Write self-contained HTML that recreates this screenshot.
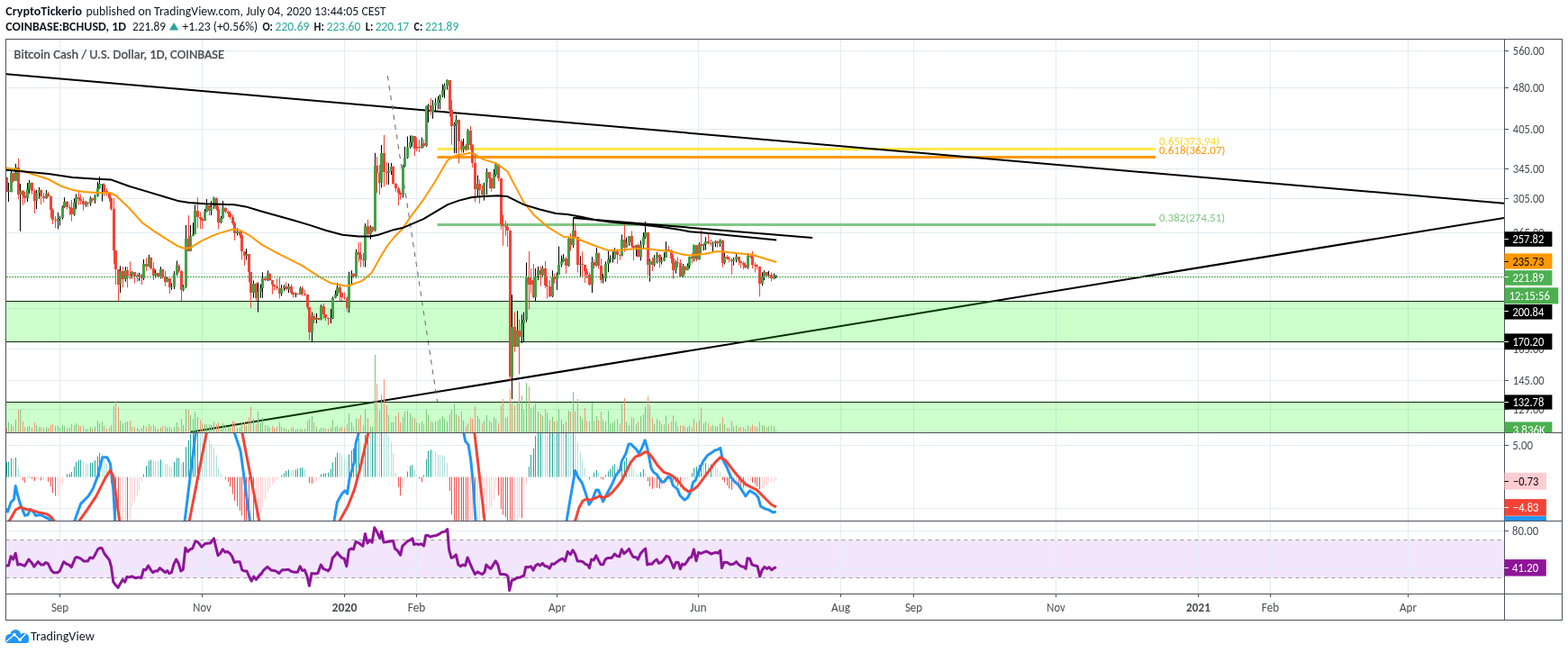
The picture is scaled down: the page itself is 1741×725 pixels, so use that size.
<!DOCTYPE html>
<html><head><meta charset="utf-8"><title>BCHUSD chart</title>
<style>html,body{margin:0;padding:0;background:#fff;}svg{display:block;}</style>
</head><body>
<svg width="1741" height="725" viewBox="0 0 1741 725" shape-rendering="auto">
<defs><clipPath id="cm"><rect x="7.0" y="44.0" width="1663.0" height="436.0"/></clipPath><clipPath id="cd"><rect x="7.0" y="481.0" width="1663.0" height="97.0"/></clipPath><clipPath id="cr"><rect x="7.0" y="579.0" width="1663.0" height="80.0"/></clipPath></defs>
<rect width="1741" height="725" fill="#fff"/>
<rect x="6.5" y="599.5" width="1664.0" height="42" fill="#f3e6fc"/>
<line x1="66.5" y1="43.5" x2="66.5" y2="659.5" stroke="#e1ecf2" stroke-width="1"/>
<line x1="224.5" y1="43.5" x2="224.5" y2="659.5" stroke="#e1ecf2" stroke-width="1"/>
<line x1="382.5" y1="43.5" x2="382.5" y2="659.5" stroke="#e1ecf2" stroke-width="1"/>
<line x1="462.5" y1="43.5" x2="462.5" y2="659.5" stroke="#e1ecf2" stroke-width="1"/>
<line x1="618.5" y1="43.5" x2="618.5" y2="659.5" stroke="#e1ecf2" stroke-width="1"/>
<line x1="775.5" y1="43.5" x2="775.5" y2="659.5" stroke="#e1ecf2" stroke-width="1"/>
<line x1="933.5" y1="43.5" x2="933.5" y2="659.5" stroke="#e1ecf2" stroke-width="1"/>
<line x1="1014.5" y1="43.5" x2="1014.5" y2="659.5" stroke="#e1ecf2" stroke-width="1"/>
<line x1="1172.5" y1="43.5" x2="1172.5" y2="659.5" stroke="#e1ecf2" stroke-width="1"/>
<line x1="1330.5" y1="43.5" x2="1330.5" y2="659.5" stroke="#e1ecf2" stroke-width="1"/>
<line x1="1410.5" y1="43.5" x2="1410.5" y2="659.5" stroke="#e1ecf2" stroke-width="1"/>
<line x1="1563.5" y1="43.5" x2="1563.5" y2="659.5" stroke="#e1ecf2" stroke-width="1"/>
<line x1="6.5" y1="56.5" x2="1670.5" y2="56.5" stroke="#e1ecf2" stroke-width="1"/>
<line x1="6.5" y1="97.5" x2="1670.5" y2="97.5" stroke="#e1ecf2" stroke-width="1"/>
<line x1="6.5" y1="143.5" x2="1670.5" y2="143.5" stroke="#e1ecf2" stroke-width="1"/>
<line x1="6.5" y1="187.5" x2="1670.5" y2="187.5" stroke="#e1ecf2" stroke-width="1"/>
<line x1="6.5" y1="220.5" x2="1670.5" y2="220.5" stroke="#e1ecf2" stroke-width="1"/>
<line x1="6.5" y1="258.5" x2="1670.5" y2="258.5" stroke="#e1ecf2" stroke-width="1"/>
<line x1="6.5" y1="303.5" x2="1670.5" y2="303.5" stroke="#e1ecf2" stroke-width="1"/>
<line x1="6.5" y1="342.5" x2="1670.5" y2="342.5" stroke="#e1ecf2" stroke-width="1"/>
<line x1="6.5" y1="387.5" x2="1670.5" y2="387.5" stroke="#e1ecf2" stroke-width="1"/>
<line x1="6.5" y1="422.5" x2="1670.5" y2="422.5" stroke="#e1ecf2" stroke-width="1"/>
<line x1="6.5" y1="454.5" x2="1670.5" y2="454.5" stroke="#e1ecf2" stroke-width="1"/>
<line x1="6.5" y1="494.5" x2="1670.5" y2="494.5" stroke="#e1ecf2" stroke-width="1"/>
<line x1="6.5" y1="564.5" x2="1670.5" y2="564.5" stroke="#e1ecf2" stroke-width="1"/>
<line x1="6.5" y1="589.5" x2="1670.5" y2="589.5" stroke="#e1ecf2" stroke-width="1"/>
<line x1="6.5" y1="631.5" x2="1670.5" y2="631.5" stroke="#e1ecf2" stroke-width="1"/>
<g clip-path="url(#cm)">
<line x1="485.4" y1="165.5" x2="1283" y2="165.5" stroke="#fce94f" stroke-width="3"/>
<line x1="485.4" y1="174.5" x2="1283" y2="174.5" stroke="#ff9800" stroke-width="3"/>
<line x1="485.4" y1="249.5" x2="1283" y2="249.5" stroke="#81c784" stroke-width="3"/>
<line x1="0" y1="81.7" x2="1670" y2="225.7" stroke="#000" stroke-width="2"/>
<line x1="211" y1="479.8" x2="1670" y2="241.9" stroke="#000" stroke-width="2"/>
<line x1="636.4" y1="242" x2="902.1" y2="264.1" stroke="#000" stroke-width="2"/>
<line x1="636.4" y1="242" x2="650" y2="242" stroke="#000" stroke-width="1.5"/>
<line x1="430.3" y1="84" x2="485.6" y2="446" stroke="#6f727c" stroke-width="1.1" stroke-dasharray="5.5 5.5"/>
<line x1="6.5" y1="334.5" x2="1670.5" y2="334.5" stroke="#000" stroke-width="1"/>
<line x1="6.5" y1="379.5" x2="1670.5" y2="379.5" stroke="#000" stroke-width="1"/>
<line x1="6.5" y1="446.5" x2="1670.5" y2="446.5" stroke="#000" stroke-width="1"/>
<rect x="6.5" y="334" width="1664.0" height="46" fill="#00ff00" fill-opacity="0.2"/>
<rect x="6.5" y="446" width="1664.0" height="40" fill="#00ff00" fill-opacity="0.2"/>
<path d="M9.5 480V468.9M12.5 480V470.8M17.5 480V465.8M22.5 480V455.0M30.5 480V473.9M32.5 480V472.9M40.5 480V472.0M43.5 480V473.9M51.5 480V473.9M64.5 480V472.9M66.5 480V474.9M69.5 480V472.0M71.5 480V472.9M82.5 480V472.0M84.5 480V470.1M95.5 480V476.0M100.5 480V473.9M105.5 480V473.9M108.5 480V467.0M110.5 480V469.9M113.5 480V468.0M133.5 480V467.0M136.5 480V469.9M141.5 480V468.0M146.5 480V473.9M154.5 480V477.0M159.5 480V472.0M165.5 480V470.9M172.5 480V473.9M178.5 480V474.9M185.5 480V474.9M190.5 480V476.0M193.5 480V473.9M196.5 480V469.0M203.5 480V472.0M206.5 480V454.1M211.5 480V461.0M214.5 480V465.1M216.5 480V457.0M227.5 480V470.9M229.5 480V470.9M234.5 480V471.9M237.5 480V468.0M245.5 480V476.0M247.5 480V469.9M253.5 480V473.9M263.5 480V474.9M266.5 480V474.9M273.5 480V472.9M281.5 480V465.1M286.5 480V456.9M289.5 480V469.9M291.5 480V464.0M297.5 480V472.9M312.5 480V473.9M315.5 480V474.9M320.5 480V477.0M328.5 480V477.0M330.5 480V476.0M333.5 480V476.0M338.5 480V476.0M346.5 480V461.9M351.5 480V473.9M356.5 480V474.9M367.5 480V474.9M369.5 480V466.0M372.5 480V473.9M374.5 480V472.9M387.5 480V458.9M390.5 480V468.9M395.5 480V465.1M405.5 480V454.0M411.5 480V473.9M413.5 480V473.9M416.5 480V393.9M423.5 480V438.0M431.5 480V460.9M434.5 480V468.9M436.5 480V468.9M447.5 480V462.9M449.5 480V457.1M452.5 480V455.9M455.5 480V459.0M457.5 480V462.9M462.5 480V468.9M468.5 480V468.0M473.5 480V455.0M475.5 480V460.9M480.5 480V468.9M483.5 480V468.0M486.5 480V467.0M488.5 480V465.1M491.5 480V461.9M493.5 480V465.1M496.5 480V468.0M504.5 480V449.0M506.5 480V460.0M514.5 480V467.0M519.5 480V470.1M530.5 480V461.9M537.5 480V467.0M540.5 480V460.9M548.5 480V462.9M550.5 480V465.1M568.5 480V445.5M574.5 480V444.9M579.5 480V439.2M581.5 480V455.0M584.5 480V425.0M589.5 480V453.1M594.5 480V448.0M597.5 480V456.9M602.5 480V461.9M607.5 480V458.1M613.5 480V462.9M618.5 480V467.0M620.5 480V454.0M623.5 480V465.7M625.5 480V471.0M631.5 480V456.0M636.5 480V435.1M644.5 480V461.9M646.5 480V465.1M657.5 480V447.1M662.5 480V462.3M669.5 480V466.4M672.5 480V468.2M675.5 480V456.2M677.5 480V470.3M680.5 480V469.3M682.5 480V467.4M690.5 480V448.4M695.5 480V468.2M698.5 480V472.2M706.5 480V471.2M711.5 480V462.3M714.5 480V460.2M716.5 480V451.2M721.5 480V450.3M726.5 480V470.3M729.5 480V465.2M734.5 480V471.2M737.5 480V471.2M739.5 480V461.3M750.5 480V468.2M758.5 480V472.2M763.5 480V474.3M765.5 480V472.2M770.5 480V465.2M776.5 480V467.1M781.5 480V470.3M783.5 480V468.2M791.5 480V472.2M794.5 480V473.3M799.5 480V470.3M804.5 480V471.2M814.5 480V473.3M817.5 480V472.2M830.5 480V472.2M846.5 480V472.2M848.5 480V472.2M853.5 480V473.3M859.5 480V473.3M861.5 480V478.1" stroke="#78c87c" stroke-width="1" fill="none"/>
<path d="M7.5 480V474.8M14.5 480V473.9M20.5 480V454.7M25.5 480V467.7M27.5 480V473.9M35.5 480V474.9M38.5 480V469.0M45.5 480V473.9M48.5 480V474.9M53.5 480V474.9M56.5 480V472.0M58.5 480V470.9M61.5 480V472.9M74.5 480V474.9M77.5 480V474.9M79.5 480V470.9M87.5 480V472.0M89.5 480V472.9M92.5 480V472.9M97.5 480V476.0M102.5 480V476.0M115.5 480V473.1M118.5 480V476.0M121.5 480V474.9M123.5 480V472.0M126.5 480V450.9M128.5 480V445.3M131.5 480V451.9M139.5 480V468.9M144.5 480V467.0M149.5 480V473.9M152.5 480V474.9M157.5 480V474.9M162.5 480V473.9M167.5 480V472.9M170.5 480V472.0M175.5 480V476.0M180.5 480V472.9M183.5 480V472.9M188.5 480V473.9M198.5 480V473.9M201.5 480V465.1M209.5 480V455.0M219.5 480V462.9M222.5 480V466.1M224.5 480V469.9M232.5 480V470.9M240.5 480V470.9M242.5 480V468.9M250.5 480V473.1M255.5 480V474.9M258.5 480V467.0M260.5 480V468.0M268.5 480V469.0M271.5 480V469.0M276.5 480V463.8M278.5 480V451.9M284.5 480V470.9M294.5 480V471.9M299.5 480V474.9M302.5 480V472.9M304.5 480V474.9M307.5 480V473.9M310.5 480V469.0M317.5 480V476.0M323.5 480V474.9M325.5 480V473.9M335.5 480V477.0M341.5 480V467.0M343.5 480V465.1M348.5 480V469.0M354.5 480V477.0M359.5 480V474.9M361.5 480V476.0M364.5 480V476.0M377.5 480V474.9M379.5 480V473.9M382.5 480V474.9M385.5 480V470.9M392.5 480V473.9M398.5 480V465.1M400.5 480V460.9M403.5 480V471.9M408.5 480V464.0M418.5 480V426.0M421.5 480V456.0M426.5 480V421.1M429.5 480V449.9M439.5 480V461.9M442.5 480V457.9M444.5 480V468.9M460.5 480V464.1M465.5 480V470.1M470.5 480V471.0M478.5 480V468.0M499.5 480V460.0M501.5 480V455.0M509.5 480V461.9M512.5 480V457.1M517.5 480V473.1M522.5 480V464.1M524.5 480V465.1M527.5 480V450.9M532.5 480V465.1M535.5 480V470.1M543.5 480V467.0M545.5 480V469.1M553.5 480V470.1M556.5 480V449.9M558.5 480V443.0M561.5 480V464.1M563.5 480V462.9M566.5 480V431.6M571.5 480V449.9M576.5 480V424.0M587.5 480V429.1M592.5 480V450.9M600.5 480V460.0M605.5 480V454.0M610.5 480V466.0M615.5 480V468.0M628.5 480V468.0M633.5 480V456.9M638.5 480V456.9M641.5 480V443.0M649.5 480V453.1M651.5 480V467.0M654.5 480V468.0M659.5 480V467.4M664.5 480V466.4M667.5 480V457.0M685.5 480V465.2M688.5 480V470.3M693.5 480V442.1M701.5 480V463.3M703.5 480V464.2M708.5 480V468.2M719.5 480V440.2M724.5 480V464.2M732.5 480V467.1M742.5 480V470.3M745.5 480V468.2M747.5 480V461.3M752.5 480V473.3M755.5 480V472.2M760.5 480V473.3M768.5 480V474.3M773.5 480V469.3M778.5 480V452.2M786.5 480V470.3M789.5 480V473.3M796.5 480V473.3M802.5 480V463.3M807.5 480V475.2M809.5 480V475.2M812.5 480V467.1M820.5 480V474.3M822.5 480V474.3M825.5 480V474.3M827.5 480V476.2M833.5 480V474.3M835.5 480V471.2M838.5 480V473.3M840.5 480V474.3M843.5 480V468.2M851.5 480V474.3M856.5 480V472.2" stroke="#ec9878" stroke-width="1" fill="none"/>
<g stroke-width="1"><path d="M7.5 196.7V212.8" stroke="#f44336"/><rect x="6.0" y="197" width="3" height="16" fill="#f44336"/><path d="M9.5 202.9V224.0" stroke="#000"/><rect x="8.0" y="212" width="3" height="1" fill="#43a047"/><path d="M12.5 189.9V213.4" stroke="#000"/><rect x="11.0" y="192" width="3" height="21" fill="#43a047"/><path d="M14.5 191.7V202.9" stroke="#f44336"/><rect x="13.0" y="192" width="3" height="9" fill="#f44336"/><path d="M17.5 181.8V201.0" stroke="#000"/><rect x="16.0" y="186" width="3" height="15" fill="#43a047"/><path d="M20.5 176.0V221.5" stroke="#f44336"/><rect x="19.0" y="186" width="3" height="30" fill="#f44336"/><path d="M22.5 204.1V256.8" stroke="#000"/><rect x="21.0" y="212" width="3" height="4" fill="#43a047"/><path d="M25.5 210.9V227.7" stroke="#f44336"/><rect x="24.0" y="212" width="3" height="5" fill="#f44336"/><path d="M27.5 212.8V225.8" stroke="#f44336"/><rect x="26.0" y="217" width="3" height="3" fill="#f44336"/><path d="M30.5 202.9V224.0" stroke="#000"/><rect x="29.0" y="210" width="3" height="10" fill="#43a047"/><path d="M32.5 199.8V214.7" stroke="#000"/><rect x="31.0" y="203" width="3" height="7" fill="#43a047"/><path d="M35.5 202.3V215.9" stroke="#f44336"/><rect x="34.0" y="203" width="3" height="9" fill="#f44336"/><path d="M38.5 209.7V237.0" stroke="#f44336"/><rect x="37.0" y="212" width="3" height="11" fill="#f44336"/><path d="M40.5 210.9V232.0" stroke="#000"/><rect x="39.0" y="214" width="3" height="9" fill="#43a047"/><path d="M43.5 207.8V220.9" stroke="#000"/><rect x="42.0" y="211" width="3" height="3" fill="#43a047"/><path d="M45.5 210.3V227.1" stroke="#f44336"/><rect x="44.0" y="211" width="3" height="7" fill="#f44336"/><path d="M48.5 214.0V224.6" stroke="#f44336"/><rect x="47.0" y="218" width="3" height="2" fill="#f44336"/><path d="M51.5 210.9V220.9" stroke="#000"/><rect x="50.0" y="215" width="3" height="5" fill="#43a047"/><path d="M53.5 212.8V219.0" stroke="#f44336"/><rect x="52.0" y="215" width="3" height="3" fill="#f44336"/><path d="M56.5 217.1V242.0" stroke="#f44336"/><rect x="55.0" y="218" width="3" height="15" fill="#f44336"/><path d="M58.5 231.4V248.8" stroke="#f44336"/><rect x="57.0" y="233" width="3" height="11" fill="#f44336"/><path d="M61.5 240.1V253.1" stroke="#f44336"/><rect x="60.0" y="244" width="3" height="1" fill="#f44336"/><path d="M64.5 235.8V254.4" stroke="#000"/><rect x="63.0" y="243" width="3" height="2" fill="#43a047"/><path d="M66.5 239.5V250.6" stroke="#000"/><rect x="65.0" y="242" width="3" height="1" fill="#43a047"/><path d="M69.5 228.3V243.8" stroke="#000"/><rect x="68.0" y="230" width="3" height="12" fill="#43a047"/><path d="M71.5 219.2V230.8" stroke="#000"/><rect x="70.0" y="224" width="3" height="6" fill="#43a047"/><path d="M74.5 223.1V232.5" stroke="#f44336"/><rect x="73.0" y="224" width="3" height="6" fill="#f44336"/><path d="M77.5 227.0V239.1" stroke="#f44336"/><rect x="76.0" y="230" width="3" height="1" fill="#f44336"/><path d="M79.5 222.0V245.7" stroke="#f44336"/><rect x="78.0" y="231" width="3" height="7" fill="#f44336"/><path d="M82.5 220.3V239.7" stroke="#000"/><rect x="81.0" y="225" width="3" height="13" fill="#43a047"/><path d="M84.5 215.4V231.9" stroke="#000"/><rect x="83.0" y="219" width="3" height="6" fill="#43a047"/><path d="M87.5 213.2V227.5" stroke="#f44336"/><rect x="86.0" y="219" width="3" height="2" fill="#f44336"/><path d="M89.5 215.4V227.0" stroke="#f44336"/><rect x="88.0" y="221" width="3" height="2" fill="#f44336"/><path d="M92.5 219.2V233.6" stroke="#f44336"/><rect x="91.0" y="223" width="3" height="4" fill="#f44336"/><path d="M95.5 223.1V229.7" stroke="#000"/><rect x="94.0" y="225" width="3" height="2" fill="#43a047"/><path d="M97.5 224.2V229.7" stroke="#f44336"/><rect x="96.0" y="225" width="3" height="1" fill="#f44336"/><path d="M100.5 218.1V228.6" stroke="#000"/><rect x="99.0" y="220" width="3" height="6" fill="#43a047"/><path d="M102.5 219.8V224.2" stroke="#f44336"/><rect x="101.0" y="220" width="3" height="2" fill="#f44336"/><path d="M105.5 215.9V225.9" stroke="#000"/><rect x="104.0" y="218" width="3" height="4" fill="#43a047"/><path d="M108.5 201.6V218.7" stroke="#000"/><rect x="107.0" y="209" width="3" height="9" fill="#43a047"/><path d="M110.5 196.0V209.8" stroke="#000"/><rect x="109.0" y="204" width="3" height="5" fill="#43a047"/><path d="M113.5 204.0V223.6" stroke="#000"/><rect x="112.0" y="204" width="3" height="1" fill="#43a047"/><path d="M115.5 203.2V218.1" stroke="#f44336"/><rect x="114.0" y="205" width="3" height="8" fill="#f44336"/><path d="M118.5 208.7V217.6" stroke="#f44336"/><rect x="117.0" y="212" width="3" height="1" fill="#f44336"/><path d="M121.5 213.2V223.6" stroke="#f44336"/><rect x="120.0" y="213" width="3" height="7" fill="#f44336"/><path d="M123.5 219.2V234.1" stroke="#f44336"/><rect x="122.0" y="220" width="3" height="12" fill="#f44336"/><path d="M126.5 220.0V292.8" stroke="#f44336"/><rect x="125.0" y="232" width="3" height="46" fill="#f44336"/><path d="M128.5 277.9V316.0" stroke="#f44336"/><rect x="127.0" y="278" width="3" height="21" fill="#f44336"/><path d="M131.5 299.5V334.2" stroke="#f44336"/><rect x="130.0" y="299" width="3" height="17" fill="#f44336"/><path d="M133.5 295.3V325.1" stroke="#000"/><rect x="132.0" y="301" width="3" height="15" fill="#43a047"/><path d="M136.5 296.2V319.3" stroke="#f44336"/><rect x="135.0" y="301" width="3" height="9" fill="#f44336"/><path d="M139.5 296.2V312.7" stroke="#000"/><rect x="138.0" y="300" width="3" height="10" fill="#43a047"/><path d="M141.5 296.2V319.3" stroke="#f44336"/><rect x="140.0" y="300" width="3" height="6" fill="#f44336"/><path d="M144.5 290.4V310.2" stroke="#f44336"/><rect x="143.0" y="305" width="3" height="1" fill="#f44336"/><path d="M146.5 301.1V309.4" stroke="#000"/><rect x="145.0" y="302" width="3" height="3" fill="#43a047"/><path d="M149.5 302.0V314.4" stroke="#f44336"/><rect x="148.0" y="302" width="3" height="5" fill="#f44336"/><path d="M152.5 303.6V312.7" stroke="#f44336"/><rect x="151.0" y="306" width="3" height="1" fill="#f44336"/><path d="M154.5 302.8V311.9" stroke="#000"/><rect x="153.0" y="305" width="3" height="1" fill="#43a047"/><path d="M157.5 304.4V316.0" stroke="#f44336"/><rect x="156.0" y="305" width="3" height="4" fill="#f44336"/><path d="M159.5 287.9V311.1" stroke="#000"/><rect x="158.0" y="293" width="3" height="16" fill="#43a047"/><path d="M162.5 286.2V301.1" stroke="#f44336"/><rect x="161.0" y="293" width="3" height="3" fill="#f44336"/><path d="M165.5 282.9V296.2" stroke="#000"/><rect x="164.0" y="286" width="3" height="10" fill="#43a047"/><path d="M167.5 285.4V299.5" stroke="#f44336"/><rect x="166.0" y="286" width="3" height="12" fill="#f44336"/><path d="M170.5 291.2V311.1" stroke="#f44336"/><rect x="169.0" y="298" width="3" height="8" fill="#f44336"/><path d="M172.5 299.5V308.6" stroke="#000"/><rect x="171.0" y="303" width="3" height="3" fill="#43a047"/><path d="M175.5 302.8V307.7" stroke="#f44336"/><rect x="174.0" y="303" width="3" height="4" fill="#f44336"/><path d="M178.5 296.2V309.4" stroke="#000"/><rect x="177.0" y="299" width="3" height="8" fill="#43a047"/><path d="M180.5 298.6V309.4" stroke="#f44336"/><rect x="179.0" y="299" width="3" height="9" fill="#f44336"/><path d="M183.5 301.1V317.7" stroke="#f44336"/><rect x="182.0" y="308" width="3" height="5" fill="#f44336"/><path d="M185.5 307.7V313.5" stroke="#000"/><rect x="184.0" y="309" width="3" height="4" fill="#43a047"/><path d="M188.5 309.4V326.0" stroke="#f44336"/><rect x="187.0" y="309" width="3" height="10" fill="#f44336"/><path d="M190.5 314.4V321.8" stroke="#000"/><rect x="189.0" y="318" width="3" height="1" fill="#43a047"/><path d="M193.5 301.1V321.0" stroke="#000"/><rect x="192.0" y="304" width="3" height="14" fill="#43a047"/><path d="M196.5 289.5V306.1" stroke="#000"/><rect x="195.0" y="295" width="3" height="9" fill="#43a047"/><path d="M198.5 292.8V302.8" stroke="#f44336"/><rect x="197.0" y="295" width="3" height="6" fill="#f44336"/><path d="M201.5 300.1V334.1" stroke="#f44336"/><rect x="200.0" y="301" width="3" height="21" fill="#f44336"/><path d="M203.5 316.2V323.4" stroke="#000"/><rect x="202.0" y="318" width="3" height="4" fill="#43a047"/><path d="M206.5 249.8V319.8" stroke="#000"/><rect x="205.0" y="265" width="3" height="53" fill="#43a047"/><path d="M209.5 239.1V279.4" stroke="#f44336"/><rect x="208.0" y="265" width="3" height="14" fill="#f44336"/><path d="M211.5 249.8V278.5" stroke="#000"/><rect x="210.0" y="262" width="3" height="17" fill="#43a047"/><path d="M214.5 247.2V262.4" stroke="#000"/><rect x="213.0" y="260" width="3" height="2" fill="#43a047"/><path d="M216.5 227.4V259.7" stroke="#000"/><rect x="215.0" y="234" width="3" height="26" fill="#43a047"/><path d="M219.5 219.3V253.4" stroke="#f44336"/><rect x="218.0" y="234" width="3" height="7" fill="#f44336"/><path d="M222.5 235.5V254.3" stroke="#f44336"/><rect x="221.0" y="241" width="3" height="2" fill="#f44336"/><path d="M224.5 240.9V254.3" stroke="#f44336"/><rect x="223.0" y="243" width="3" height="2" fill="#f44336"/><path d="M227.5 231.9V245.4" stroke="#000"/><rect x="226.0" y="235" width="3" height="10" fill="#43a047"/><path d="M229.5 221.1V235.5" stroke="#000"/><rect x="228.0" y="228" width="3" height="7" fill="#43a047"/><path d="M232.5 228.3V239.1" stroke="#f44336"/><rect x="231.0" y="228" width="3" height="6" fill="#f44336"/><path d="M234.5 222.9V239.1" stroke="#000"/><rect x="233.0" y="230" width="3" height="4" fill="#43a047"/><path d="M237.5 218.5V231.9" stroke="#000"/><rect x="236.0" y="220" width="3" height="10" fill="#43a047"/><path d="M240.5 219.3V233.7" stroke="#f44336"/><rect x="239.0" y="220" width="3" height="12" fill="#f44336"/><path d="M242.5 228.3V254.3" stroke="#f44336"/><rect x="241.0" y="232" width="3" height="15" fill="#f44336"/><path d="M245.5 240.0V248.0" stroke="#000"/><rect x="244.0" y="242" width="3" height="5" fill="#43a047"/><path d="M247.5 222.9V242.7" stroke="#000"/><rect x="246.0" y="231" width="3" height="11" fill="#43a047"/><path d="M250.5 230.1V237.3" stroke="#f44336"/><rect x="249.0" y="231" width="3" height="4" fill="#f44336"/><path d="M253.5 233.7V240.9" stroke="#f44336"/><rect x="252.0" y="235" width="3" height="2" fill="#f44336"/><path d="M255.5 234.6V243.6" stroke="#f44336"/><rect x="254.0" y="237" width="3" height="4" fill="#f44336"/><path d="M258.5 238.2V249.8" stroke="#f44336"/><rect x="257.0" y="241" width="3" height="7" fill="#f44336"/><path d="M260.5 246.3V266.9" stroke="#f44336"/><rect x="259.0" y="248" width="3" height="11" fill="#f44336"/><path d="M263.5 253.4V261.5" stroke="#000"/><rect x="262.0" y="257" width="3" height="2" fill="#43a047"/><path d="M266.5 255.2V264.2" stroke="#f44336"/><rect x="265.0" y="257" width="3" height="4" fill="#f44336"/><path d="M268.5 257.9V288.4" stroke="#f44336"/><rect x="267.0" y="261" width="3" height="18" fill="#f44336"/><path d="M271.5 279.0V294.8" stroke="#f44336"/><rect x="270.0" y="279" width="3" height="5" fill="#f44336"/><path d="M273.5 276.2V288.6" stroke="#000"/><rect x="272.0" y="282" width="3" height="2" fill="#43a047"/><path d="M276.5 282.4V313.4" stroke="#f44336"/><rect x="275.0" y="282" width="3" height="20" fill="#f44336"/><path d="M278.5 302.4V341.7" stroke="#f44336"/><rect x="277.0" y="302" width="3" height="23" fill="#f44336"/><path d="M281.5 311.4V330.7" stroke="#000"/><rect x="280.0" y="315" width="3" height="10" fill="#43a047"/><path d="M284.5 313.4V334.1" stroke="#f44336"/><rect x="283.0" y="315" width="3" height="16" fill="#f44336"/><path d="M286.5 313.4V346.6" stroke="#000"/><rect x="285.0" y="324" width="3" height="7" fill="#43a047"/><path d="M289.5 315.5V330.7" stroke="#000"/><rect x="288.0" y="320" width="3" height="4" fill="#43a047"/><path d="M291.5 302.4V330.7" stroke="#000"/><rect x="290.0" y="309" width="3" height="11" fill="#43a047"/><path d="M294.5 306.6V312.1" stroke="#f44336"/><rect x="293.0" y="309" width="3" height="2" fill="#f44336"/><path d="M297.5 300.3V312.1" stroke="#000"/><rect x="296.0" y="304" width="3" height="7" fill="#43a047"/><path d="M299.5 303.1V312.1" stroke="#f44336"/><rect x="298.0" y="304" width="3" height="7" fill="#f44336"/><path d="M302.5 311.4V326.6" stroke="#f44336"/><rect x="301.0" y="311" width="3" height="5" fill="#f44336"/><path d="M304.5 316.2V322.4" stroke="#f44336"/><rect x="303.0" y="316" width="3" height="2" fill="#f44336"/><path d="M307.5 309.3V321.7" stroke="#f44336"/><rect x="306.0" y="318" width="3" height="2" fill="#f44336"/><path d="M310.5 307.9V331.4" stroke="#f44336"/><rect x="309.0" y="320" width="3" height="6" fill="#f44336"/><path d="M312.5 316.2V328.6" stroke="#000"/><rect x="311.0" y="320" width="3" height="6" fill="#43a047"/><path d="M315.5 316.2V323.1" stroke="#000"/><rect x="314.0" y="318" width="3" height="2" fill="#43a047"/><path d="M317.5 313.4V322.4" stroke="#f44336"/><rect x="316.0" y="318" width="3" height="3" fill="#f44336"/><path d="M320.5 314.8V325.2" stroke="#000"/><rect x="319.0" y="318" width="3" height="3" fill="#43a047"/><path d="M323.5 315.5V327.2" stroke="#f44336"/><rect x="322.0" y="318" width="3" height="7" fill="#f44336"/><path d="M325.5 323.8V330.7" stroke="#f44336"/><rect x="324.0" y="325" width="3" height="2" fill="#f44336"/><path d="M328.5 324.5V330.0" stroke="#000"/><rect x="327.0" y="326" width="3" height="1" fill="#43a047"/><path d="M330.5 325.7V327.2" stroke="#f44336"/><rect x="329.0" y="326" width="3" height="1" fill="#f44336"/><path d="M333.5 318.3V327.2" stroke="#000"/><rect x="332.0" y="320" width="3" height="7" fill="#43a047"/><path d="M335.5 317.6V328.6" stroke="#f44336"/><rect x="334.0" y="320" width="3" height="6" fill="#f44336"/><path d="M338.5 321.7V328.6" stroke="#f44336"/><rect x="337.0" y="326" width="3" height="1" fill="#f44336"/><path d="M341.5 326.6V343.8" stroke="#f44336"/><rect x="340.0" y="327" width="3" height="14" fill="#f44336"/><path d="M343.5 341.0V377.6" stroke="#f44336"/><rect x="342.0" y="341" width="3" height="28" fill="#f44336"/><path d="M346.5 346.6V379.0" stroke="#000"/><rect x="345.0" y="351" width="3" height="18" fill="#43a047"/><path d="M348.5 348.6V359.0" stroke="#f44336"/><rect x="347.0" y="351" width="3" height="4" fill="#f44336"/><path d="M351.5 347.9V359.0" stroke="#000"/><rect x="350.0" y="353" width="3" height="2" fill="#43a047"/><path d="M354.5 353.4V355.5" stroke="#f44336"/><rect x="353.0" y="353" width="3" height="2" fill="#f44336"/><path d="M356.5 338.3V355.5" stroke="#000"/><rect x="355.0" y="340" width="3" height="15" fill="#43a047"/><path d="M359.5 336.9V354.1" stroke="#f44336"/><rect x="358.0" y="340" width="3" height="9" fill="#f44336"/><path d="M361.5 349.3V356.2" stroke="#f44336"/><rect x="360.0" y="349" width="3" height="4" fill="#f44336"/><path d="M364.5 352.8V361.0" stroke="#f44336"/><rect x="363.0" y="353" width="3" height="1" fill="#f44336"/><path d="M367.5 343.1V359.0" stroke="#000"/><rect x="366.0" y="353" width="3" height="1" fill="#43a047"/><path d="M369.5 329.3V354.1" stroke="#000"/><rect x="368.0" y="331" width="3" height="22" fill="#43a047"/><path d="M372.5 322.4V331.4" stroke="#000"/><rect x="371.0" y="327" width="3" height="4" fill="#43a047"/><path d="M374.5 314.1V328.6" stroke="#000"/><rect x="373.0" y="319" width="3" height="8" fill="#43a047"/><path d="M377.5 316.9V334.1" stroke="#f44336"/><rect x="376.0" y="319" width="3" height="6" fill="#f44336"/><path d="M379.5 324.5V334.1" stroke="#f44336"/><rect x="378.0" y="325" width="3" height="5" fill="#f44336"/><path d="M382.5 324.5V332.8" stroke="#f44336"/><rect x="381.0" y="330" width="3" height="1" fill="#f44336"/><path d="M385.5 329.3V345.9" stroke="#f44336"/><rect x="384.0" y="331" width="3" height="11" fill="#f44336"/><path d="M387.5 301.7V347.2" stroke="#000"/><rect x="386.0" y="307" width="3" height="35" fill="#43a047"/><path d="M390.5 300.3V316.2" stroke="#000"/><rect x="389.0" y="304" width="3" height="3" fill="#43a047"/><path d="M392.5 303.1V309.3" stroke="#f44336"/><rect x="391.0" y="304" width="3" height="3" fill="#f44336"/><path d="M395.5 276.7V308.7" stroke="#000"/><rect x="394.0" y="280" width="3" height="27" fill="#43a047"/><path d="M398.5 269.0V291.0" stroke="#f44336"/><rect x="397.0" y="280" width="3" height="3" fill="#f44336"/><path d="M400.5 269.0V296.5" stroke="#f44336"/><rect x="399.0" y="283" width="3" height="5" fill="#f44336"/><path d="M403.5 281.1V296.5" stroke="#f44336"/><rect x="402.0" y="288" width="3" height="1" fill="#f44336"/><path d="M405.5 248.1V296.5" stroke="#000"/><rect x="404.0" y="251" width="3" height="38" fill="#43a047"/><path d="M408.5 243.7V262.4" stroke="#f44336"/><rect x="407.0" y="251" width="3" height="9" fill="#f44336"/><path d="M411.5 250.3V265.7" stroke="#000"/><rect x="410.0" y="252" width="3" height="8" fill="#43a047"/><path d="M413.5 251.4V258.0" stroke="#f44336"/><rect x="412.0" y="252" width="3" height="4" fill="#f44336"/><path d="M416.5 169.8V256.9" stroke="#000"/><rect x="415.0" y="184" width="3" height="72" fill="#43a047"/><path d="M418.5 174.2V213.9" stroke="#f44336"/><rect x="417.0" y="184" width="3" height="8" fill="#f44336"/><path d="M421.5 183.1V216.1" stroke="#f44336"/><rect x="420.0" y="192" width="3" height="11" fill="#f44336"/><path d="M423.5 161.0V208.4" stroke="#000"/><rect x="422.0" y="170" width="3" height="33" fill="#43a047"/><path d="M426.5 150.0V207.3" stroke="#f44336"/><rect x="425.0" y="170" width="3" height="21" fill="#f44336"/><path d="M429.5 179.7V205.1" stroke="#f44336"/><rect x="428.0" y="191" width="3" height="1" fill="#f44336"/><path d="M431.5 180.9V205.1" stroke="#000"/><rect x="430.0" y="190" width="3" height="2" fill="#43a047"/><path d="M434.5 180.9V194.1" stroke="#000"/><rect x="433.0" y="185" width="3" height="5" fill="#43a047"/><path d="M436.5 184.2V205.1" stroke="#f44336"/><rect x="435.0" y="185" width="3" height="19" fill="#f44336"/><path d="M439.5 202.9V212.8" stroke="#f44336"/><rect x="438.0" y="204" width="3" height="5" fill="#f44336"/><path d="M442.5 207.3V228.2" stroke="#f44336"/><rect x="441.0" y="209" width="3" height="5" fill="#f44336"/><path d="M444.5 211.7V221.6" stroke="#f44336"/><rect x="443.0" y="214" width="3" height="2" fill="#f44336"/><path d="M447.5 183.1V219.4" stroke="#000"/><rect x="446.0" y="185" width="3" height="31" fill="#43a047"/><path d="M449.5 162.9V185.7" stroke="#000"/><rect x="448.0" y="175" width="3" height="10" fill="#43a047"/><path d="M452.5 151.5V176.3" stroke="#000"/><rect x="451.0" y="163" width="3" height="12" fill="#43a047"/><path d="M455.5 150.4V164.9" stroke="#000"/><rect x="454.0" y="158" width="3" height="5" fill="#43a047"/><path d="M457.5 150.4V162.9" stroke="#000"/><rect x="456.0" y="151" width="3" height="7" fill="#43a047"/><path d="M460.5 151.5V173.2" stroke="#f44336"/><rect x="459.0" y="151" width="3" height="14" fill="#f44336"/><path d="M462.5 152.5V168.0" stroke="#f44336"/><rect x="461.0" y="163" width="3" height="2" fill="#f44336"/><path d="M465.5 155.6V169.1" stroke="#f44336"/><rect x="464.0" y="163" width="3" height="1" fill="#f44336"/><path d="M468.5 152.5V164.9" stroke="#000"/><rect x="467.0" y="159" width="3" height="5" fill="#43a047"/><path d="M470.5 154.6V163.9" stroke="#f44336"/><rect x="469.0" y="159" width="3" height="3" fill="#f44336"/><path d="M473.5 117.3V162.9" stroke="#000"/><rect x="472.0" y="118" width="3" height="44" fill="#43a047"/><path d="M475.5 115.2V135.9" stroke="#000"/><rect x="474.0" y="117" width="3" height="1" fill="#43a047"/><path d="M478.5 109.0V127.6" stroke="#f44336"/><rect x="477.0" y="117" width="3" height="7" fill="#f44336"/><path d="M480.5 111.1V131.8" stroke="#000"/><rect x="479.0" y="117" width="3" height="7" fill="#43a047"/><path d="M483.5 109.0V124.5" stroke="#000"/><rect x="482.0" y="114" width="3" height="3" fill="#43a047"/><path d="M486.5 106.9V121.4" stroke="#000"/><rect x="485.0" y="111" width="3" height="3" fill="#43a047"/><path d="M488.5 104.9V121.4" stroke="#000"/><rect x="487.0" y="106" width="3" height="5" fill="#43a047"/><path d="M491.5 93.5V108.0" stroke="#000"/><rect x="490.0" y="100" width="3" height="6" fill="#43a047"/><path d="M493.5 92.4V109.0" stroke="#000"/><rect x="492.0" y="95" width="3" height="5" fill="#43a047"/><path d="M496.5 88.3V99.7" stroke="#000"/><rect x="495.0" y="89" width="3" height="6" fill="#43a047"/><path d="M499.5 89.3V129.7" stroke="#f44336"/><rect x="498.0" y="89" width="3" height="33" fill="#f44336"/><path d="M501.5 111.1V160.8" stroke="#f44336"/><rect x="500.0" y="122" width="3" height="18" fill="#f44336"/><path d="M504.5 135.9V170.1" stroke="#000"/><rect x="503.0" y="138" width="3" height="2" fill="#43a047"/><path d="M506.5 127.6V170.1" stroke="#000"/><rect x="505.0" y="133" width="3" height="5" fill="#43a047"/><path d="M509.5 132.8V181.5" stroke="#f44336"/><rect x="508.0" y="133" width="3" height="24" fill="#f44336"/><path d="M512.5 154.8V169.6" stroke="#f44336"/><rect x="511.0" y="157" width="3" height="9" fill="#f44336"/><path d="M514.5 153.9V169.6" stroke="#000"/><rect x="513.0" y="162" width="3" height="4" fill="#43a047"/><path d="M517.5 159.7V168.0" stroke="#f44336"/><rect x="516.0" y="162" width="3" height="4" fill="#f44336"/><path d="M519.5 143.2V166.3" stroke="#000"/><rect x="518.0" y="145" width="3" height="21" fill="#43a047"/><path d="M522.5 139.9V166.3" stroke="#f44336"/><rect x="521.0" y="145" width="3" height="16" fill="#f44336"/><path d="M524.5 159.7V186.2" stroke="#f44336"/><rect x="523.0" y="161" width="3" height="20" fill="#f44336"/><path d="M527.5 171.3V224.3" stroke="#f44336"/><rect x="526.0" y="181" width="3" height="29" fill="#f44336"/><path d="M530.5 194.5V217.6" stroke="#000"/><rect x="529.0" y="204" width="3" height="6" fill="#43a047"/><path d="M532.5 199.4V225.9" stroke="#f44336"/><rect x="531.0" y="204" width="3" height="7" fill="#f44336"/><path d="M535.5 206.0V217.6" stroke="#f44336"/><rect x="534.0" y="211" width="3" height="5" fill="#f44336"/><path d="M537.5 202.7V222.6" stroke="#000"/><rect x="536.0" y="203" width="3" height="13" fill="#43a047"/><path d="M540.5 187.0V216.0" stroke="#000"/><rect x="539.0" y="191" width="3" height="12" fill="#43a047"/><path d="M543.5 191.2V209.4" stroke="#f44336"/><rect x="542.0" y="191" width="3" height="7" fill="#f44336"/><path d="M545.5 196.9V212.7" stroke="#f44336"/><rect x="544.0" y="198" width="3" height="11" fill="#f44336"/><path d="M548.5 187.8V209.4" stroke="#000"/><rect x="547.0" y="194" width="3" height="15" fill="#43a047"/><path d="M550.5 180.4V196.1" stroke="#000"/><rect x="549.0" y="182" width="3" height="12" fill="#43a047"/><path d="M553.5 182.1V201.1" stroke="#f44336"/><rect x="552.0" y="182" width="3" height="16" fill="#f44336"/><path d="M556.5 197.8V254.8" stroke="#f44336"/><rect x="555.0" y="198" width="3" height="51" fill="#f44336"/><path d="M558.5 238.3V272.8" stroke="#f44336"/><rect x="557.0" y="249" width="3" height="2" fill="#f44336"/><path d="M561.5 245.2V261.7" stroke="#f44336"/><rect x="560.0" y="251" width="3" height="1" fill="#f44336"/><path d="M563.5 247.9V274.1" stroke="#f44336"/><rect x="562.0" y="252" width="3" height="4" fill="#f44336"/><path d="M566.5 255.5V423.8" stroke="#f44336"/><rect x="565.0" y="256" width="3" height="162" fill="#f44336"/><path d="M568.5 327.2V443.1" stroke="#000"/><rect x="567.0" y="363" width="3" height="55" fill="#43a047"/><path d="M571.5 346.6V390.7" stroke="#f44336"/><rect x="570.0" y="363" width="3" height="22" fill="#f44336"/><path d="M574.5 345.2V385.2" stroke="#000"/><rect x="573.0" y="367" width="3" height="18" fill="#43a047"/><path d="M576.5 354.8V415.5" stroke="#f44336"/><rect x="575.0" y="367" width="3" height="7" fill="#f44336"/><path d="M579.5 349.3V381.0" stroke="#000"/><rect x="578.0" y="359" width="3" height="15" fill="#43a047"/><path d="M581.5 346.6V379.7" stroke="#000"/><rect x="580.0" y="355" width="3" height="4" fill="#43a047"/><path d="M584.5 291.4V357.6" stroke="#000"/><rect x="583.0" y="308" width="3" height="47" fill="#43a047"/><path d="M587.5 279.0V343.8" stroke="#f44336"/><rect x="586.0" y="308" width="3" height="8" fill="#f44336"/><path d="M589.5 298.1V325.7" stroke="#f44336"/><rect x="588.0" y="311" width="3" height="5" fill="#f44336"/><path d="M592.5 293.0V331.4" stroke="#f44336"/><rect x="591.0" y="311" width="3" height="19" fill="#f44336"/><path d="M594.5 298.1V334.3" stroke="#000"/><rect x="593.0" y="307" width="3" height="23" fill="#43a047"/><path d="M597.5 295.9V311.2" stroke="#000"/><rect x="596.0" y="300" width="3" height="7" fill="#43a047"/><path d="M600.5 295.9V317.7" stroke="#f44336"/><rect x="599.0" y="300" width="3" height="5" fill="#f44336"/><path d="M602.5 295.2V306.8" stroke="#000"/><rect x="601.0" y="298" width="3" height="7" fill="#43a047"/><path d="M605.5 290.1V319.9" stroke="#f44336"/><rect x="604.0" y="298" width="3" height="19" fill="#f44336"/><path d="M607.5 307.5V331.4" stroke="#f44336"/><rect x="606.0" y="317" width="3" height="1" fill="#f44336"/><path d="M610.5 311.2V330.0" stroke="#f44336"/><rect x="609.0" y="318" width="3" height="11" fill="#f44336"/><path d="M613.5 300.3V330.0" stroke="#000"/><rect x="612.0" y="308" width="3" height="21" fill="#43a047"/><path d="M615.5 303.9V314.8" stroke="#f44336"/><rect x="614.0" y="308" width="3" height="2" fill="#f44336"/><path d="M618.5 302.5V322.0" stroke="#000"/><rect x="617.0" y="305" width="3" height="5" fill="#43a047"/><path d="M620.5 273.5V304.6" stroke="#000"/><rect x="619.0" y="294" width="3" height="11" fill="#43a047"/><path d="M623.5 283.6V296.7" stroke="#000"/><rect x="622.0" y="290" width="3" height="4" fill="#43a047"/><path d="M625.5 282.2V290.9" stroke="#000"/><rect x="624.0" y="287" width="3" height="3" fill="#43a047"/><path d="M628.5 285.1V303.9" stroke="#f44336"/><rect x="627.0" y="287" width="3" height="8" fill="#f44336"/><path d="M631.5 264.1V295.9" stroke="#000"/><rect x="630.0" y="265" width="3" height="30" fill="#43a047"/><path d="M633.5 259.0V278.6" stroke="#f44336"/><rect x="632.0" y="265" width="3" height="7" fill="#f44336"/><path d="M636.5 242.3V274.9" stroke="#000"/><rect x="635.0" y="256" width="3" height="16" fill="#43a047"/><path d="M638.5 248.1V264.8" stroke="#f44336"/><rect x="637.0" y="256" width="3" height="7" fill="#f44336"/><path d="M641.5 263.3V302.5" stroke="#f44336"/><rect x="640.0" y="263" width="3" height="31" fill="#f44336"/><path d="M644.5 284.3V306.8" stroke="#000"/><rect x="643.0" y="293" width="3" height="1" fill="#43a047"/><path d="M646.5 279.3V306.8" stroke="#f44336"/><rect x="645.0" y="293" width="3" height="1" fill="#f44336"/><path d="M649.5 293.8V314.1" stroke="#f44336"/><rect x="648.0" y="294" width="3" height="7" fill="#f44336"/><path d="M651.5 298.1V309.0" stroke="#f44336"/><rect x="650.0" y="301" width="3" height="4" fill="#f44336"/><path d="M654.5 302.5V317.0" stroke="#f44336"/><rect x="653.0" y="305" width="3" height="11" fill="#f44336"/><path d="M657.5 285.2V325.0" stroke="#000"/><rect x="656.0" y="291" width="3" height="25" fill="#43a047"/><path d="M659.5 288.1V298.1" stroke="#f44336"/><rect x="658.0" y="291" width="3" height="4" fill="#f44336"/><path d="M662.5 275.2V295.7" stroke="#000"/><rect x="661.0" y="281" width="3" height="14" fill="#43a047"/><path d="M664.5 280.5V298.7" stroke="#f44336"/><rect x="663.0" y="281" width="3" height="14" fill="#f44336"/><path d="M667.5 286.9V314.5" stroke="#f44336"/><rect x="666.0" y="295" width="3" height="16" fill="#f44336"/><path d="M669.5 303.9V314.5" stroke="#000"/><rect x="668.0" y="309" width="3" height="2" fill="#43a047"/><path d="M672.5 290.4V312.7" stroke="#000"/><rect x="671.0" y="293" width="3" height="16" fill="#43a047"/><path d="M675.5 278.7V302.2" stroke="#000"/><rect x="674.0" y="288" width="3" height="5" fill="#43a047"/><path d="M677.5 283.4V291.6" stroke="#000"/><rect x="676.0" y="287" width="3" height="1" fill="#43a047"/><path d="M680.5 279.3V291.6" stroke="#000"/><rect x="679.0" y="287" width="3" height="1" fill="#43a047"/><path d="M682.5 275.2V288.1" stroke="#000"/><rect x="681.0" y="279" width="3" height="8" fill="#43a047"/><path d="M685.5 276.4V292.8" stroke="#f44336"/><rect x="684.0" y="279" width="3" height="4" fill="#f44336"/><path d="M688.5 282.8V288.7" stroke="#f44336"/><rect x="687.0" y="283" width="3" height="1" fill="#f44336"/><path d="M690.5 260.5V284.6" stroke="#000"/><rect x="689.0" y="266" width="3" height="18" fill="#43a047"/><path d="M693.5 249.4V279.9" stroke="#f44336"/><rect x="692.0" y="266" width="3" height="9" fill="#f44336"/><path d="M695.5 263.5V275.2" stroke="#000"/><rect x="694.0" y="269" width="3" height="6" fill="#43a047"/><path d="M698.5 262.3V272.8" stroke="#000"/><rect x="697.0" y="262" width="3" height="7" fill="#43a047"/><path d="M701.5 256.4V275.2" stroke="#f44336"/><rect x="700.0" y="262" width="3" height="11" fill="#f44336"/><path d="M703.5 272.8V289.3" stroke="#f44336"/><rect x="702.0" y="273" width="3" height="2" fill="#f44336"/><path d="M706.5 271.7V284.6" stroke="#000"/><rect x="705.0" y="272" width="3" height="3" fill="#43a047"/><path d="M708.5 270.5V285.7" stroke="#f44336"/><rect x="707.0" y="272" width="3" height="13" fill="#f44336"/><path d="M711.5 267.0V289.3" stroke="#000"/><rect x="710.0" y="272" width="3" height="13" fill="#43a047"/><path d="M714.5 258.2V275.2" stroke="#000"/><rect x="713.0" y="263" width="3" height="9" fill="#43a047"/><path d="M716.5 245.9V265.2" stroke="#000"/><rect x="715.0" y="258" width="3" height="5" fill="#43a047"/><path d="M719.5 258.2V305.7" stroke="#f44336"/><rect x="718.0" y="258" width="3" height="36" fill="#f44336"/><path d="M721.5 287.5V312.7" stroke="#000"/><rect x="720.0" y="290" width="3" height="4" fill="#43a047"/><path d="M724.5 286.3V301.0" stroke="#f44336"/><rect x="723.0" y="290" width="3" height="4" fill="#f44336"/><path d="M726.5 283.1V295.8" stroke="#000"/><rect x="725.0" y="286" width="3" height="8" fill="#43a047"/><path d="M729.5 279.8V292.4" stroke="#000"/><rect x="728.0" y="283" width="3" height="3" fill="#43a047"/><path d="M732.5 282.0V297.4" stroke="#f44336"/><rect x="731.0" y="283" width="3" height="8" fill="#f44336"/><path d="M734.5 285.3V293.6" stroke="#000"/><rect x="733.0" y="289" width="3" height="2" fill="#43a047"/><path d="M737.5 280.3V290.2" stroke="#000"/><rect x="736.0" y="286" width="3" height="3" fill="#43a047"/><path d="M739.5 268.2V285.8" stroke="#000"/><rect x="738.0" y="277" width="3" height="9" fill="#43a047"/><path d="M742.5 273.1V279.2" stroke="#f44336"/><rect x="741.0" y="277" width="3" height="1" fill="#f44336"/><path d="M745.5 277.0V292.4" stroke="#f44336"/><rect x="744.0" y="278" width="3" height="9" fill="#f44336"/><path d="M747.5 282.5V309.6" stroke="#f44336"/><rect x="746.0" y="287" width="3" height="13" fill="#f44336"/><path d="M750.5 289.1V303.5" stroke="#000"/><rect x="749.0" y="291" width="3" height="9" fill="#43a047"/><path d="M752.5 285.3V296.9" stroke="#f44336"/><rect x="751.0" y="291" width="3" height="1" fill="#f44336"/><path d="M755.5 288.0V307.3" stroke="#f44336"/><rect x="754.0" y="292" width="3" height="15" fill="#f44336"/><path d="M758.5 293.0V308.4" stroke="#000"/><rect x="757.0" y="296" width="3" height="11" fill="#43a047"/><path d="M760.5 295.2V304.6" stroke="#f44336"/><rect x="759.0" y="296" width="3" height="4" fill="#f44336"/><path d="M763.5 292.4V300.2" stroke="#000"/><rect x="762.0" y="295" width="3" height="5" fill="#43a047"/><path d="M765.5 284.7V298.0" stroke="#000"/><rect x="764.0" y="285" width="3" height="10" fill="#43a047"/><path d="M768.5 280.9V292.4" stroke="#f44336"/><rect x="767.0" y="285" width="3" height="2" fill="#f44336"/><path d="M770.5 271.5V290.2" stroke="#000"/><rect x="769.0" y="272" width="3" height="15" fill="#43a047"/><path d="M773.5 272.0V290.2" stroke="#f44336"/><rect x="772.0" y="272" width="3" height="16" fill="#f44336"/><path d="M776.5 269.3V288.6" stroke="#000"/><rect x="775.0" y="271" width="3" height="17" fill="#43a047"/><path d="M778.5 254.4V281.4" stroke="#f44336"/><rect x="777.0" y="271" width="3" height="2" fill="#f44336"/><path d="M781.5 270.4V278.1" stroke="#000"/><rect x="780.0" y="271" width="3" height="2" fill="#43a047"/><path d="M783.5 263.2V277.6" stroke="#000"/><rect x="782.0" y="268" width="3" height="3" fill="#43a047"/><path d="M786.5 259.9V271.5" stroke="#f44336"/><rect x="785.0" y="268" width="3" height="2" fill="#f44336"/><path d="M789.5 266.0V273.7" stroke="#f44336"/><rect x="788.0" y="270" width="3" height="1" fill="#f44336"/><path d="M791.5 268.2V279.2" stroke="#000"/><rect x="790.0" y="270" width="3" height="1" fill="#43a047"/><path d="M794.5 267.1V274.2" stroke="#000"/><rect x="793.0" y="268" width="3" height="2" fill="#43a047"/><path d="M796.5 267.1V274.8" stroke="#f44336"/><rect x="795.0" y="268" width="3" height="2" fill="#f44336"/><path d="M799.5 265.4V274.2" stroke="#000"/><rect x="798.0" y="267" width="3" height="3" fill="#43a047"/><path d="M802.5 266.0V296.9" stroke="#f44336"/><rect x="801.0" y="267" width="3" height="25" fill="#f44336"/><path d="M804.5 280.9V293.6" stroke="#000"/><rect x="803.0" y="285" width="3" height="7" fill="#43a047"/><path d="M807.5 283.1V288.6" stroke="#f44336"/><rect x="806.0" y="285" width="3" height="2" fill="#f44336"/><path d="M809.5 284.8V291.4" stroke="#f44336"/><rect x="808.0" y="287" width="3" height="1" fill="#f44336"/><path d="M812.5 287.0V304.6" stroke="#f44336"/><rect x="811.0" y="288" width="3" height="2" fill="#f44336"/><path d="M814.5 285.9V294.7" stroke="#000"/><rect x="813.0" y="288" width="3" height="2" fill="#43a047"/><path d="M817.5 282.0V291.4" stroke="#000"/><rect x="816.0" y="285" width="3" height="3" fill="#43a047"/><path d="M820.5 284.8V294.7" stroke="#f44336"/><rect x="819.0" y="285" width="3" height="5" fill="#f44336"/><path d="M822.5 289.7V297.5" stroke="#f44336"/><rect x="821.0" y="290" width="3" height="2" fill="#f44336"/><path d="M825.5 290.3V299.1" stroke="#f44336"/><rect x="824.0" y="292" width="3" height="2" fill="#f44336"/><path d="M827.5 291.4V298.0" stroke="#f44336"/><rect x="826.0" y="294" width="3" height="3" fill="#f44336"/><path d="M830.5 280.9V298.6" stroke="#000"/><rect x="829.0" y="284" width="3" height="13" fill="#43a047"/><path d="M833.5 281.5V287.0" stroke="#f44336"/><rect x="832.0" y="284" width="3" height="1" fill="#f44336"/><path d="M835.5 278.7V298.0" stroke="#f44336"/><rect x="834.0" y="285" width="3" height="9" fill="#f44336"/><path d="M838.5 291.4V302.4" stroke="#f44336"/><rect x="837.0" y="294" width="3" height="1" fill="#f44336"/><path d="M840.5 293.1V299.1" stroke="#f44336"/><rect x="839.0" y="295" width="3" height="1" fill="#f44336"/><path d="M843.5 295.8V329.4" stroke="#f44336"/><rect x="842.0" y="296" width="3" height="19" fill="#f44336"/><path d="M846.5 302.4V317.3" stroke="#000"/><rect x="845.0" y="307" width="3" height="8" fill="#43a047"/><path d="M848.5 300.2V311.2" stroke="#000"/><rect x="847.0" y="302" width="3" height="5" fill="#43a047"/><path d="M851.5 301.9V307.9" stroke="#f44336"/><rect x="850.0" y="302" width="3" height="4" fill="#f44336"/><path d="M853.5 300.8V308.5" stroke="#000"/><rect x="852.0" y="305" width="3" height="1" fill="#43a047"/><path d="M856.5 302.4V312.4" stroke="#f44336"/><rect x="855.0" y="305" width="3" height="4" fill="#f44336"/><path d="M859.5 303.5V310.1" stroke="#000"/><rect x="858.0" y="307" width="3" height="2" fill="#43a047"/><path d="M861.5 305.2V309.0" stroke="#000"/><rect x="860.0" y="306" width="3" height="1" fill="#43a047"/></g>
<polyline points="6.8,186.5 17.9,187.9 35.9,193.3 53.8,199.0 68.1,206.8 80.7,210.9 93.2,213.0 107.6,213.9 121.9,213.9 129.1,217.5 143.4,231.0 157.8,247.1 170.3,256.1 188.3,267.7 197.2,273.1 204.4,275.8 211.6,274.9 224.3,267.1 240.5,259.9 258.4,254.6 265.6,255.4 276.3,260.8 290.7,271.6 308.6,281.4 335.5,294.9 353.4,306.6 367.8,314.6 385.7,317.7 401.9,311.9 412.6,303.0 421.6,286.8 430.0,273.0 437.9,263.0 446.9,254.0 455.9,240.6 470.2,221.7 482.8,202.0 497.1,177.8 506.1,172.4 515.0,171.2 522.2,169.7 527.6,171.5 536.5,176.9 550.9,181.4 563.4,190.3 572.4,207.4 581.4,224.4 592.1,237.9 608.3,252.2 626.2,263.0 637.6,263.7 645.2,266.7 660.3,272.8 675.5,278.1 690.7,277.4 701.3,276.6 716.5,275.8 728.6,277.4 743.8,278.9 758.9,282.7 766.5,283.4 781.7,281.9 796.9,278.9 812.0,280.4 827.2,281.9 834.8,282.7 842.4,285.0 862.1,291.0" fill="none" stroke="#ff9800" stroke-width="2" stroke-linejoin="round"/>
<polyline points="6.8,188.8 26.9,190.6 53.8,193.0 80.7,196.9 107.6,198.7 123.7,199.6 143.4,206.8 161.4,212.1 179.3,217.5 197.2,222.9 210.0,225.0 227.9,226.2 245.9,226.8 260.2,227.3 272.8,229.4 290.7,234.8 308.6,239.8 326.5,244.7 344.5,250.1 362.4,256.0 380.3,260.8 398.3,262.6 410.8,262.6 420.0,260.8 437.9,254.9 446.9,253.1 470.2,243.2 482.8,235.7 497.1,227.1 509.7,222.6 524.0,219.0 536.5,218.1 552.7,217.2 563.4,218.1 581.4,227.1 599.3,232.5 617.2,237.0 630.0,237.9 645.2,240.7 660.3,244.0 675.5,246.3 690.7,247.8 705.8,248.8 721.0,250.4 736.2,252.3 751.4,254.6 766.5,257.3 781.7,258.4 796.9,259.9 812.0,261.4 827.2,263.0 842.4,264.5 862.1,266.4" fill="none" stroke="#000" stroke-width="2" stroke-linejoin="round"/>
<line x1="7" y1="307.5" x2="1670.5" y2="307.5" stroke="#43a047" stroke-width="1" stroke-dasharray="2 1"/>
</g>
<text x="1287" y="160.9" font-family="Carlito, 'Liberation Sans', sans-serif" font-size="12.5" fill="#fbd82e" textLength="67.2" lengthAdjust="spacingAndGlyphs">0.65(373.94)</text>
<text x="1287" y="170.7" font-family="Carlito, 'Liberation Sans', sans-serif" font-size="12.5" fill="#ff9800" textLength="73.4" lengthAdjust="spacingAndGlyphs">0.618(362.07)</text>
<text x="1287" y="246.2" font-family="Carlito, 'Liberation Sans', sans-serif" font-size="12.5" fill="#81c784" textLength="73.2" lengthAdjust="spacingAndGlyphs">0.382(274.51)</text>
<g clip-path="url(#cd)">
<path d="M7.5 529.6V513.2M9.5 529.6V512.7M12.5 529.6V508.7M17.5 529.6V508.0M32.5 529.6V528.7M71.5 529.6V529.6M74.5 529.6V526.5M77.5 529.6V525.8M79.5 529.6V523.9M82.5 529.6V518.1M84.5 529.6V512.8M87.5 529.6V510.9M89.5 529.6V510.7M100.5 529.6V513.9M102.5 529.6V513.8M105.5 529.6V511.2M108.5 529.6V506.6M110.5 529.6V502.7M159.5 529.6V526.4M162.5 529.6V517.3M165.5 529.6V511.4M167.5 529.6V510.5M178.5 529.6V510.3M193.5 529.6V512.9M196.5 529.6V508.5M198.5 529.6V508.4M203.5 529.6V513.2M206.5 529.6V496.4M209.5 529.6V489.0M211.5 529.6V481.6M214.5 529.6V477.9M216.5 529.6V477.9M219.5 529.6V477.9M312.5 529.6V527.6M315.5 529.6V525.3M317.5 529.6V522.9M320.5 529.6V521.5M328.5 529.6V521.5M330.5 529.6V520.4M333.5 529.6V519.3M335.5 529.6V519.3M356.5 529.6V526.6M359.5 529.6V525.8M361.5 529.6V525.1M364.5 529.6V524.7M367.5 529.6V520.4M369.5 529.6V513.4M372.5 529.6V507.6M374.5 529.6V502.6M387.5 529.6V504.5M390.5 529.6V500.1M392.5 529.6V498.0M395.5 529.6V489.4M398.5 529.6V486.9M405.5 529.6V482.3M408.5 529.6V478.2M413.5 529.6V479.9M416.5 529.6V477.9M423.5 529.6V478.0M452.5 529.6V523.5M455.5 529.6V517.5M457.5 529.6V516.2M470.5 529.6V527.4M473.5 529.6V509.7M475.5 529.6V500.6M478.5 529.6V499.4M587.5 529.6V518.2M589.5 529.6V504.9M592.5 529.6V497.8M594.5 529.6V484.2M597.5 529.6V477.9M600.5 529.6V477.9M610.5 529.6V478.9M613.5 529.6V478.3M618.5 529.6V477.9M620.5 529.6V477.9M628.5 529.6V477.9M636.5 529.6V478.4M657.5 529.6V529.2M659.5 529.6V524.6M662.5 529.6V521.9M672.5 529.6V527.2M675.5 529.6V523.2M677.5 529.6V520.6M680.5 529.6V517.2M682.5 529.6V515.4M690.5 529.6V516.3M693.5 529.6V512.0M695.5 529.6V508.1M711.5 529.6V524.2M714.5 529.6V520.9M768.5 529.6V525.2M770.5 529.6V519.8M773.5 529.6V518.0M776.5 529.6V516.1M778.5 529.6V514.5M783.5 529.6V514.0M789.5 529.6V515.5" stroke="#26a69a" stroke-width="1" fill="none"/>
<path d="M14.5 529.6V509.0M20.5 529.6V518.8M22.5 529.6V527.5M92.5 529.6V512.6M95.5 529.6V513.7M97.5 529.6V514.6M113.5 529.6V504.0M115.5 529.6V510.1M118.5 529.6V514.4M121.5 529.6V520.4M170.5 529.6V511.5M172.5 529.6V512.1M175.5 529.6V512.2M180.5 529.6V512.9M183.5 529.6V515.0M185.5 529.6V515.5M188.5 529.6V518.1M190.5 529.6V518.3M201.5 529.6V514.9M222.5 529.6V478.6M224.5 529.6V480.2M227.5 529.6V483.2M229.5 529.6V486.7M232.5 529.6V488.6M234.5 529.6V492.8M237.5 529.6V496.5M240.5 529.6V505.5M242.5 529.6V518.7M245.5 529.6V525.7M247.5 529.6V528.6M323.5 529.6V522.0M325.5 529.6V522.1M338.5 529.6V521.3M341.5 529.6V528.5M377.5 529.6V502.9M379.5 529.6V505.3M382.5 529.6V508.7M385.5 529.6V510.7M400.5 529.6V489.8M403.5 529.6V491.8M411.5 529.6V480.0M418.5 529.6V478.0M421.5 529.6V478.6M426.5 529.6V478.9M429.5 529.6V480.2M431.5 529.6V484.1M434.5 529.6V490.8M436.5 529.6V503.0M439.5 529.6V524.9M460.5 529.6V522.0M462.5 529.6V527.4M480.5 529.6V500.0M483.5 529.6V502.4M486.5 529.6V504.9M488.5 529.6V505.2M491.5 529.6V505.5M493.5 529.6V506.3M496.5 529.6V514.1M602.5 529.6V478.3M605.5 529.6V479.1M607.5 529.6V479.6M615.5 529.6V478.4M623.5 529.6V478.3M625.5 529.6V478.4M631.5 529.6V478.2M633.5 529.6V478.5M638.5 529.6V481.9M641.5 529.6V491.1M644.5 529.6V501.4M646.5 529.6V511.2M649.5 529.6V519.7M651.5 529.6V528.6M664.5 529.6V524.7M685.5 529.6V517.5M688.5 529.6V518.4M698.5 529.6V509.8M701.5 529.6V515.0M703.5 529.6V520.1M706.5 529.6V525.3M708.5 529.6V527.0M716.5 529.6V524.5M781.5 529.6V515.2M786.5 529.6V516.3M791.5 529.6V517.3M794.5 529.6V517.5M796.5 529.6V520.3M799.5 529.6V523.6" stroke="#b2dfdb" stroke-width="1" fill="none"/>
<path d="M25.5 529.6V533.4M27.5 529.6V535.8M35.5 529.6V531.7M38.5 529.6V534.0M45.5 529.6V533.4M53.5 529.6V534.8M56.5 529.6V540.1M58.5 529.6V547.2M61.5 529.6V550.6M123.5 529.6V536.4M126.5 529.6V560.8M128.5 529.6V581.3M131.5 529.6V581.3M141.5 529.6V578.7M250.5 529.6V532.3M253.5 529.6V535.1M255.5 529.6V540.3M258.5 529.6V548.4M260.5 529.6V556.0M263.5 529.6V561.9M266.5 529.6V567.1M268.5 529.6V572.3M271.5 529.6V578.5M273.5 529.6V581.3M276.5 529.6V581.3M281.5 529.6V581.0M343.5 529.6V536.0M346.5 529.6V536.8M442.5 529.6V540.8M444.5 529.6V550.2M465.5 529.6V531.4M468.5 529.6V535.4M499.5 529.6V545.1M501.5 529.6V571.1M504.5 529.6V581.3M506.5 529.6V581.3M509.5 529.6V581.3M512.5 529.6V581.3M514.5 529.6V581.3M517.5 529.6V581.3M519.5 529.6V581.3M527.5 529.6V581.2M553.5 529.6V549.8M556.5 529.6V565.0M558.5 529.6V571.3M561.5 529.6V574.2M563.5 529.6V578.9M566.5 529.6V581.3M568.5 529.6V581.3M579.5 529.6V575.3M654.5 529.6V532.3M667.5 529.6V531.4M669.5 529.6V532.4M719.5 529.6V534.0M721.5 529.6V540.0M724.5 529.6V542.9M729.5 529.6V541.7M732.5 529.6V542.5M747.5 529.6V533.6M750.5 529.6V535.7M752.5 529.6V540.2M755.5 529.6V540.6M802.5 529.6V532.8M804.5 529.6V535.6M807.5 529.6V539.0M809.5 529.6V542.3M812.5 529.6V543.8M820.5 529.6V540.4M822.5 529.6V541.4M825.5 529.6V541.5M835.5 529.6V535.9M838.5 529.6V537.2M840.5 529.6V540.2M843.5 529.6V543.2" stroke="#ef5350" stroke-width="1" fill="none"/>
<path d="M30.5 529.6V531.8M40.5 529.6V532.1M43.5 529.6V532.0M48.5 529.6V533.1M51.5 529.6V531.7M64.5 529.6V549.8M66.5 529.6V544.4M69.5 529.6V537.3M133.5 529.6V581.0M136.5 529.6V579.4M139.5 529.6V578.7M144.5 529.6V576.2M146.5 529.6V562.9M149.5 529.6V556.3M152.5 529.6V550.9M154.5 529.6V544.3M157.5 529.6V535.4M278.5 529.6V580.8M284.5 529.6V580.3M286.5 529.6V576.5M289.5 529.6V569.5M291.5 529.6V562.7M294.5 529.6V555.4M297.5 529.6V547.2M299.5 529.6V541.4M302.5 529.6V538.0M304.5 529.6V535.4M307.5 529.6V532.8M310.5 529.6V530.2M348.5 529.6V536.7M351.5 529.6V534.5M354.5 529.6V531.7M447.5 529.6V541.7M449.5 529.6V534.8M522.5 529.6V581.1M524.5 529.6V580.7M530.5 529.6V580.5M532.5 529.6V579.7M535.5 529.6V574.9M537.5 529.6V571.3M540.5 529.6V567.8M543.5 529.6V564.3M545.5 529.6V562.5M548.5 529.6V556.0M550.5 529.6V542.3M571.5 529.6V580.8M574.5 529.6V577.8M576.5 529.6V574.0M581.5 529.6V564.8M584.5 529.6V537.8M726.5 529.6V541.2M734.5 529.6V540.8M737.5 529.6V538.6M739.5 529.6V536.0M742.5 529.6V533.9M745.5 529.6V532.6M758.5 529.6V536.4M760.5 529.6V533.8M763.5 529.6V532.1M765.5 529.6V529.9M814.5 529.6V541.7M817.5 529.6V539.3M827.5 529.6V541.2M830.5 529.6V534.3M833.5 529.6V533.7M846.5 529.6V542.1M848.5 529.6V540.1M851.5 529.6V537.8M853.5 529.6V536.3M856.5 529.6V535.4M859.5 529.6V534.3M861.5 529.6V533.0" stroke="#ffcdd2" stroke-width="1" fill="none"/>
<polyline points="6.9,564.6 8.6,568.1 12.1,557.7 15.5,554.3 17.2,539.6 19.0,547.4 22.4,559.4 27.6,572.4 31.0,571.5 33.6,565.5 37.0,568.1 39.6,572.4 44.8,571.5 50.0,574.1 55.1,576.7 57.7,580.1" fill="none" stroke="#2196f3" stroke-width="3" stroke-linejoin="round"/>
<polyline points="81.9,580.1 82.7,578.4 89.6,559.4 98.2,550.8 103.4,542.2 108.6,528.4 113.7,507.7 118.9,507.7 122.4,514.6 125.8,543.9 127.9,580.1" fill="none" stroke="#2196f3" stroke-width="3" stroke-linejoin="round"/>
<polyline points="370.1,580.1 371.0,578.4 374.4,557.7 379.6,548.2 383.1,544.8 385.6,548.2 388.2,530.1 393.4,512.9 395.1,492.2 398.9,478.4" fill="none" stroke="#2196f3" stroke-width="3" stroke-linejoin="round"/>
<polyline points="204.7,580.1 205.1,578.4 217.5,478.4" fill="none" stroke="#2196f3" stroke-width="3" stroke-linejoin="round"/>
<polyline points="259.3,478.4 260.2,480.2 267.1,500.8 277.4,578.4 277.8,580.1" fill="none" stroke="#2196f3" stroke-width="3" stroke-linejoin="round"/>
<polyline points="514.5,478.4 516.6,489.6 520.1,494.0 522.6,509.5 525.2,535.3 528.2,580.1" fill="none" stroke="#2196f3" stroke-width="3" stroke-linejoin="round"/>
<polyline points="628.8,580.1 629.1,578.4 633.4,552.5 638.6,522.4 642.0,530.1 646.3,536.2 650.7,549.1 654.1,560.3 657.5,555.1 661.9,543.9 664.4,543.9 669.6,556.9 673.9,548.2 679.9,537.0 683.4,528.4 688.6,521.5 690.3,512.0 694.6,504.3 698.0,493.1 700.6,493.1 706.7,499.1 709.2,503.4 712.7,497.4 716.1,488.8 718.7,497.4 723.0,519.8 725.6,524.1 729.1,526.7 732.5,531.9 735.1,535.3 737.7,534.5 742.0,529.3 744.6,531.0 747.2,538.8 752.3,543.1 754.9,550.0 760.1,555.1 763.5,552.5 767.0,545.7 769.6,535.3 772.1,533.6 776.5,521.5 780.8,512.0 785.9,505.2 790.2,502.6 793.7,500.0 797.1,499.1 799.7,497.4 802.3,509.5 807.5,519.8 811.8,530.1 816.1,535.3 819.5,537.9 823.0,543.1 827.8,550.8 832.5,544.8 839.3,549.1 841.9,552.5 844.5,562.0 848.8,564.6 854.0,566.3 858.3,568.9 861.8,568.1" fill="none" stroke="#2196f3" stroke-width="3" stroke-linejoin="round"/>
<polyline points="9.5,580.1 10.3,578.4 17.2,566.3 22.4,563.2 29.3,565.5 34.5,566.3 43.1,568.9 51.7,570.6 56.9,574.1 61.2,580.1" fill="none" stroke="#f44336" stroke-width="3" stroke-linejoin="round"/>
<polyline points="376.2,580.1 377.0,578.4 386.5,561.2 393.4,543.9 400.3,518.1 409.4,478.4" fill="none" stroke="#f44336" stroke-width="3" stroke-linejoin="round"/>
<polyline points="209.7,580.1 210.2,578.4 229.7,478.4" fill="none" stroke="#f44336" stroke-width="3" stroke-linejoin="round"/>
<polyline points="87.0,580.1 87.9,578.4 96.5,566.3 106.8,550.8 117.2,530.1 122.4,522.4 125.8,528.4 132.7,578.4 133.0,580.1" fill="none" stroke="#f44336" stroke-width="3" stroke-linejoin="round"/>
<polyline points="268.0,478.4 268.8,480.2 287.8,578.4 288.1,580.1" fill="none" stroke="#f44336" stroke-width="3" stroke-linejoin="round"/>
<polyline points="526.6,478.4 538.1,578.4 538.5,580.1" fill="none" stroke="#f44336" stroke-width="3" stroke-linejoin="round"/>
<polyline points="637.9,580.1 638.6,578.4 642.9,563.7 647.2,556.0 650.7,554.3 655.8,555.1 660.1,553.4 665.3,550.8 669.6,552.5 674.8,550.8 679.9,546.5 685.1,540.5 690.3,533.6 695.5,523.3 700.6,512.9 705.8,506.9 711.0,505.2 716.1,501.7 719.6,502.6 724.8,508.6 729.9,516.4 736.8,524.1 743.7,526.7 748.9,530.1 754.0,535.3 759.2,542.2 764.4,545.7 769.6,543.9 774.7,539.6 779.9,532.7 786.8,523.3 793.7,513.8 799.7,507.7 805.7,511.2 810.9,518.1 817.8,526.7 823.0,532.7 828.1,537.9 835.0,541.3 840.2,543.9 845.4,549.1 850.5,554.3 856.6,560.3 861.8,562.9" fill="none" stroke="#f44336" stroke-width="3" stroke-linejoin="round"/>
</g>
<g clip-path="url(#cr)">
<line x1="6.5" y1="599.5" x2="1670.5" y2="599.5" stroke="#9e9e9e" stroke-width="1" stroke-dasharray="4 4"/>
<line x1="6.5" y1="641.5" x2="1670.5" y2="641.5" stroke="#9e9e9e" stroke-width="1" stroke-dasharray="4 4"/>
<polyline points="6.9,628.0 9.5,628.0 12.1,617.6 14.6,621.1 17.2,614.2 19.8,627.1 22.4,626.3 27.6,628.3 31.9,621.1 35.3,624.9 37.9,629.2 42.2,623.7 45.7,627.1 48.3,627.1 50.8,624.5 53.4,625.9 56.9,633.1 59.5,635.7 63.8,635.7 66.3,634.0 70.7,623.7 74.1,626.3 76.7,627.1 79.3,629.7 83.6,619.4 85.3,618.5 89.6,620.2 93.1,623.1 97.4,623.1 99.9,619.0 102.9,619.9 105.1,616.8 108.6,609.9 111.1,608.2 113.2,608.7 115.8,614.5 118.9,618.5 121.5,621.9 123.6,629.7 125.8,646.1 128.4,649.5 131.0,652.4 136.1,643.5 138.7,646.1 141.0,640.4 143.9,640.9 146.5,640.0 150.8,641.8 154.2,640.9 156.8,641.8 159.4,632.3 162.0,632.8 164.6,628.0 167.2,632.3 169.7,635.7 172.3,634.0 174.9,634.0 177.5,630.6 180.9,633.5 183.5,635.7 185.8,633.5 187.8,636.6 190.4,635.7 193.0,626.3 195.6,621.1 198.2,625.4 200.8,634.0 203.3,632.3 205.9,608.2 208.5,612.5 211.1,609.9 213.7,609.0 216.8,601.3 218.9,601.3 221.4,603.8 224.0,607.3 227.5,603.8 230.1,603.3 233.5,603.0 237.5,597.8 239.5,606.4 242.1,616.8 244.7,614.2 247.3,609.9 249.9,613.0 252.5,612.5 255.0,614.2 257.6,617.6 260.2,624.5 262.8,623.7 266.2,623.7 268.8,632.8 271.4,634.0 274.0,634.0 276.6,640.0 279.2,645.2 281.8,640.0 284.3,643.5 287.8,639.2 289.9,636.6 290.0,637.5 292.6,633.1 296.9,629.4 301.2,633.1 306.4,634.0 309.8,636.6 313.3,632.8 316.7,632.8 320.2,632.3 323.6,634.5 327.0,635.2 330.5,635.2 333.1,628.8 335.7,633.5 338.3,632.8 340.8,639.2 343.4,650.4 346.0,636.6 349.5,636.9 352.9,636.6 356.3,627.1 358.9,631.4 362.4,632.8 364.4,634.0 366.7,630.6 369.3,619.4 371.9,616.8 374.4,613.3 377.0,616.8 379.6,619.4 382.2,620.2 384.8,628.8 387.4,610.7 389.9,609.0 392.5,609.9 395.1,601.3 398.6,603.0 402.9,606.4 405.5,592.6 408.0,603.0 410.6,599.5 413.2,602.1 415.8,585.8 418.4,590.1 421.8,597.8 423.6,590.1 426.1,602.1 428.7,601.8 432.2,601.3 436.5,600.4 438.5,609.0 441.6,611.6 444.7,616.3 446.8,606.4 450.3,603.0 452.8,600.7 455.8,599.5 458.0,597.8 459.7,604.7 462.3,603.8 464.9,604.7 467.5,603.8 470.6,605.9 472.7,594.4 475.2,594.4 477.8,596.1 481.3,594.9 484.7,594.4 488.2,592.6 490.8,590.9 494.2,590.1 496.8,587.5 498.5,609.9 501.1,619.4 503.7,618.5 506.3,615.9 508.9,627.1 511.4,628.8 514.0,627.1 516.6,628.0 519.2,619.0 521.8,625.4 524.4,631.4 527.5,637.5 530.4,634.9 533.0,636.6 535.6,637.5 538.1,634.9 539.9,627.1 542.5,629.7 545.0,631.4 547.6,627.1 550.2,622.8 552.8,627.1 555.4,637.5 558.8,637.5 562.3,638.3 564.0,640.0 565.7,655.5 568.3,644.3 570.9,643.5 574.3,641.4 577.8,640.9 580.0,639.7 581.7,639.2 583.8,629.4 586.9,629.7 589.5,628.8 592.1,633.1 594.6,628.0 597.2,626.3 599.8,628.0 602.4,625.4 605.0,628.5 607.6,628.8 610.2,631.1 612.7,625.9 615.3,626.3 617.9,624.2 621.4,621.6 624.8,620.2 627.4,623.1 630.3,612.5 633.4,615.6 636.0,610.7 638.6,615.0 641.2,623.1 644.6,623.1 647.2,623.7 649.8,626.3 652.4,627.1 654.4,630.6 656.7,621.1 659.3,621.9 661.9,616.8 664.4,621.9 667.0,626.8 669.6,626.8 672.2,621.1 674.8,619.4 679.1,619.4 682.5,615.0 685.1,617.3 687.7,618.0 690.3,609.9 692.9,614.7 695.5,612.5 698.4,609.4 700.6,614.2 703.2,618.5 705.8,618.5 708.4,621.1 711.0,615.0 714.1,611.3 716.7,609.0 718.7,627.1 721.3,625.9 723.9,626.3 726.5,623.1 729.1,621.1 731.6,625.4 734.2,624.5 736.8,621.9 739.9,617.3 742.8,618.5 745.4,624.5 748.0,630.6 750.6,624.2 753.2,624.5 755.4,631.8 757.5,626.3 760.1,627.1 762.7,623.7 765.2,619.4 767.8,618.5 770.4,609.9 773.0,622.8 775.6,613.3 778.2,614.5 780.8,613.3 784.2,612.1 786.8,613.3 789.4,615.0 792.0,614.2 794.5,613.3 797.1,614.2 799.7,611.1 801.4,630.6 804.0,624.2 807.5,624.5 810.9,626.8 814.4,626.3 817.5,623.7 820.4,627.1 823.0,628.8 825.6,629.2 828.1,631.4 829.9,619.7 832.5,620.2 835.0,627.1 838.5,628.0 841.1,628.8 843.7,640.0 846.2,633.1 848.8,629.4 851.4,631.4 854.0,629.7 856.6,632.8 859.2,631.1 861.8,629.4" fill="none" stroke="#8e1599" stroke-width="3" stroke-linejoin="round"/>
</g>
<rect x="6.5" y="43.5" width="1728.0" height="645.0" fill="none" stroke="#50535e" stroke-width="1"/>
<line x1="1670.5" y1="43.5" x2="1670.5" y2="688.5" stroke="#50535e" stroke-width="1"/>
<line x1="6.5" y1="480.5" x2="1734.5" y2="480.5" stroke="#50535e" stroke-width="1"/>
<line x1="6.5" y1="578.5" x2="1734.5" y2="578.5" stroke="#50535e" stroke-width="1"/>
<line x1="6.5" y1="659.5" x2="1734.5" y2="659.5" stroke="#50535e" stroke-width="1"/>
<line x1="66.5" y1="659.5" x2="66.5" y2="663.0" stroke="#50535e" stroke-width="1"/>
<text x="56.9" y="678.7" font-family="Carlito, 'Liberation Sans', sans-serif" font-size="13.5" font-weight="normal" fill="#4a4c54" textLength="19.2" lengthAdjust="spacingAndGlyphs">Sep</text>
<line x1="224.5" y1="659.5" x2="224.5" y2="663.0" stroke="#50535e" stroke-width="1"/>
<text x="214.3" y="678.7" font-family="Carlito, 'Liberation Sans', sans-serif" font-size="13.5" font-weight="normal" fill="#4a4c54" textLength="20.3" lengthAdjust="spacingAndGlyphs">Nov</text>
<line x1="382.5" y1="659.5" x2="382.5" y2="663.0" stroke="#50535e" stroke-width="1"/>
<text x="368.5" y="678.7" font-family="Carlito, 'Liberation Sans', sans-serif" font-size="13.5" font-weight="bold" fill="#4a4c54" textLength="28.0" lengthAdjust="spacingAndGlyphs">2020</text>
<line x1="462.5" y1="659.5" x2="462.5" y2="663.0" stroke="#50535e" stroke-width="1"/>
<text x="452.8" y="678.7" font-family="Carlito, 'Liberation Sans', sans-serif" font-size="13.5" font-weight="normal" fill="#4a4c54" textLength="19.5" lengthAdjust="spacingAndGlyphs">Feb</text>
<line x1="618.5" y1="659.5" x2="618.5" y2="663.0" stroke="#50535e" stroke-width="1"/>
<text x="609.0" y="678.7" font-family="Carlito, 'Liberation Sans', sans-serif" font-size="13.5" font-weight="normal" fill="#4a4c54" textLength="19.0" lengthAdjust="spacingAndGlyphs">Apr</text>
<line x1="775.5" y1="659.5" x2="775.5" y2="663.0" stroke="#50535e" stroke-width="1"/>
<text x="766.2" y="678.7" font-family="Carlito, 'Liberation Sans', sans-serif" font-size="13.5" font-weight="normal" fill="#4a4c54" textLength="18.5" lengthAdjust="spacingAndGlyphs">Jun</text>
<line x1="933.5" y1="659.5" x2="933.5" y2="663.0" stroke="#50535e" stroke-width="1"/>
<text x="923.0" y="678.7" font-family="Carlito, 'Liberation Sans', sans-serif" font-size="13.5" font-weight="normal" fill="#4a4c54" textLength="21.0" lengthAdjust="spacingAndGlyphs">Aug</text>
<line x1="1014.5" y1="659.5" x2="1014.5" y2="663.0" stroke="#50535e" stroke-width="1"/>
<text x="1004.9" y="678.7" font-family="Carlito, 'Liberation Sans', sans-serif" font-size="13.5" font-weight="normal" fill="#4a4c54" textLength="19.2" lengthAdjust="spacingAndGlyphs">Sep</text>
<line x1="1172.5" y1="659.5" x2="1172.5" y2="663.0" stroke="#50535e" stroke-width="1"/>
<text x="1162.3" y="678.7" font-family="Carlito, 'Liberation Sans', sans-serif" font-size="13.5" font-weight="normal" fill="#4a4c54" textLength="20.3" lengthAdjust="spacingAndGlyphs">Nov</text>
<line x1="1330.5" y1="659.5" x2="1330.5" y2="663.0" stroke="#50535e" stroke-width="1"/>
<text x="1317.1" y="678.7" font-family="Carlito, 'Liberation Sans', sans-serif" font-size="13.5" font-weight="bold" fill="#4a4c54" textLength="26.8" lengthAdjust="spacingAndGlyphs">2021</text>
<line x1="1410.5" y1="659.5" x2="1410.5" y2="663.0" stroke="#50535e" stroke-width="1"/>
<text x="1400.8" y="678.7" font-family="Carlito, 'Liberation Sans', sans-serif" font-size="13.5" font-weight="normal" fill="#4a4c54" textLength="19.5" lengthAdjust="spacingAndGlyphs">Feb</text>
<line x1="1563.5" y1="659.5" x2="1563.5" y2="663.0" stroke="#50535e" stroke-width="1"/>
<text x="1554.0" y="678.7" font-family="Carlito, 'Liberation Sans', sans-serif" font-size="13.5" font-weight="normal" fill="#4a4c54" textLength="19.0" lengthAdjust="spacingAndGlyphs">Apr</text>
<line x1="1670.5" y1="56.5" x2="1675.0" y2="56.5" stroke="#50535e" stroke-width="1"/>
<text x="1679.8" y="61.4" font-family="Carlito, 'Liberation Sans', sans-serif" font-size="13.5" font-weight="normal" fill="#4a4c54" textLength="34.8" lengthAdjust="spacingAndGlyphs">560.00</text>
<line x1="1670.5" y1="97.5" x2="1675.0" y2="97.5" stroke="#50535e" stroke-width="1"/>
<text x="1679.8" y="102.4" font-family="Carlito, 'Liberation Sans', sans-serif" font-size="13.5" font-weight="normal" fill="#4a4c54" textLength="34.8" lengthAdjust="spacingAndGlyphs">480.00</text>
<line x1="1670.5" y1="143.5" x2="1675.0" y2="143.5" stroke="#50535e" stroke-width="1"/>
<text x="1679.8" y="148.4" font-family="Carlito, 'Liberation Sans', sans-serif" font-size="13.5" font-weight="normal" fill="#4a4c54" textLength="34.8" lengthAdjust="spacingAndGlyphs">405.00</text>
<line x1="1670.5" y1="187.5" x2="1675.0" y2="187.5" stroke="#50535e" stroke-width="1"/>
<text x="1679.8" y="192.4" font-family="Carlito, 'Liberation Sans', sans-serif" font-size="13.5" font-weight="normal" fill="#4a4c54" textLength="34.8" lengthAdjust="spacingAndGlyphs">345.00</text>
<line x1="1670.5" y1="220.5" x2="1675.0" y2="220.5" stroke="#50535e" stroke-width="1"/>
<text x="1679.8" y="225.4" font-family="Carlito, 'Liberation Sans', sans-serif" font-size="13.5" font-weight="normal" fill="#4a4c54" textLength="34.8" lengthAdjust="spacingAndGlyphs">305.00</text>
<line x1="1670.5" y1="258.5" x2="1675.0" y2="258.5" stroke="#50535e" stroke-width="1"/>
<text x="1679.8" y="263.4" font-family="Carlito, 'Liberation Sans', sans-serif" font-size="13.5" font-weight="normal" fill="#4a4c54" textLength="34.8" lengthAdjust="spacingAndGlyphs">265.00</text>
<line x1="1670.5" y1="387.5" x2="1675.0" y2="387.5" stroke="#50535e" stroke-width="1"/>
<text x="1679.8" y="392.4" font-family="Carlito, 'Liberation Sans', sans-serif" font-size="13.5" font-weight="normal" fill="#4a4c54" textLength="34.8" lengthAdjust="spacingAndGlyphs">165.00</text>
<line x1="1670.5" y1="422.5" x2="1675.0" y2="422.5" stroke="#50535e" stroke-width="1"/>
<text x="1679.8" y="427.4" font-family="Carlito, 'Liberation Sans', sans-serif" font-size="13.5" font-weight="normal" fill="#4a4c54" textLength="34.8" lengthAdjust="spacingAndGlyphs">145.00</text>
<line x1="1670.5" y1="454.5" x2="1675.0" y2="454.5" stroke="#50535e" stroke-width="1"/>
<text x="1679.8" y="459.4" font-family="Carlito, 'Liberation Sans', sans-serif" font-size="13.5" font-weight="normal" fill="#4a4c54" textLength="34.8" lengthAdjust="spacingAndGlyphs">129.00</text>
<line x1="1670.5" y1="494.5" x2="1675.0" y2="494.5" stroke="#50535e" stroke-width="1"/>
<text x="1679.3" y="498.8" font-family="Carlito, 'Liberation Sans', sans-serif" font-size="13.5" font-weight="normal" fill="#4a4c54" textLength="22.8" lengthAdjust="spacingAndGlyphs">5.00</text>
<line x1="1670.5" y1="589.5" x2="1675.0" y2="589.5" stroke="#50535e" stroke-width="1"/>
<text x="1679.1" y="593.6" font-family="Carlito, 'Liberation Sans', sans-serif" font-size="13.5" font-weight="normal" fill="#4a4c54" textLength="29.0" lengthAdjust="spacingAndGlyphs">80.00</text>
<rect x="1670.5" y="257.2" width="52.90000000000009" height="16.600000000000023" fill="#000"/>
<line x1="1670.5" y1="265.5" x2="1675.0" y2="265.5" stroke="#fff" stroke-width="1"/>
<text x="1679.4" y="270.1" font-family="Carlito, 'Liberation Sans', sans-serif" font-size="13.5" font-weight="normal" fill="#fff" textLength="34.9" lengthAdjust="spacingAndGlyphs">257.82</text>
<rect x="1670.5" y="281.4" width="52.90000000000009" height="17.200000000000045" fill="#ff9800"/>
<line x1="1670.5" y1="290.5" x2="1675.0" y2="290.5" stroke="#000" stroke-width="1"/>
<text x="1679.4" y="294.6" font-family="Carlito, 'Liberation Sans', sans-serif" font-size="13.5" font-weight="normal" fill="#000" textLength="34.9" lengthAdjust="spacingAndGlyphs">235.73</text>
<rect x="1670.5" y="300.2" width="52.90000000000009" height="16.600000000000023" fill="#4caf50"/>
<line x1="1670.5" y1="307.5" x2="1675.0" y2="307.5" stroke="#fff" stroke-width="1"/>
<text x="1679.4" y="313.1" font-family="Carlito, 'Liberation Sans', sans-serif" font-size="13.5" font-weight="normal" fill="#fff" textLength="34.9" lengthAdjust="spacingAndGlyphs">221.89</text>
<rect x="1670.5" y="319.3" width="59.799999999999955" height="18.099999999999966" fill="#4caf50"/>
<text x="1675.7" y="333.0" font-family="Carlito, 'Liberation Sans', sans-serif" font-size="13.5" font-weight="normal" fill="#fff" textLength="45.2" lengthAdjust="spacingAndGlyphs">12:15:56</text>
<rect x="1670.5" y="338" width="52.90000000000009" height="16.600000000000023" fill="#000"/>
<line x1="1670.5" y1="345.5" x2="1675.0" y2="345.5" stroke="#fff" stroke-width="1"/>
<text x="1679.4" y="350.9" font-family="Carlito, 'Liberation Sans', sans-serif" font-size="13.5" font-weight="normal" fill="#fff" textLength="34.9" lengthAdjust="spacingAndGlyphs">200.84</text>
<rect x="1670.5" y="370.4" width="52.90000000000009" height="17.80000000000001" fill="#000"/>
<line x1="1670.5" y1="379.5" x2="1675.0" y2="379.5" stroke="#fff" stroke-width="1"/>
<text x="1679.4" y="383.9" font-family="Carlito, 'Liberation Sans', sans-serif" font-size="13.5" font-weight="normal" fill="#fff" textLength="34.9" lengthAdjust="spacingAndGlyphs">170.20</text>
<rect x="1670.5" y="438.4" width="52.90000000000009" height="16.200000000000045" fill="#000"/>
<line x1="1670.5" y1="446.5" x2="1675.0" y2="446.5" stroke="#fff" stroke-width="1"/>
<text x="1679.4" y="451.1" font-family="Carlito, 'Liberation Sans', sans-serif" font-size="13.5" font-weight="normal" fill="#fff" textLength="34.9" lengthAdjust="spacingAndGlyphs">132.78</text>
<rect x="1670.5" y="468.4" width="52.90000000000009" height="12" fill="#4caf50"/>
<text x="1679.4" y="481.5" font-family="Carlito, 'Liberation Sans', sans-serif" font-size="13.5" font-weight="normal" fill="#fff" textLength="36.5" lengthAdjust="spacingAndGlyphs">3.836K</text>
<rect x="1670.5" y="524.8" width="46.40000000000009" height="18.90000000000009" fill="#ffcdd2"/>
<line x1="1670.5" y1="534.5" x2="1675.0" y2="534.5" stroke="#000" stroke-width="1"/>
<text x="1680" y="538.9" font-family="Carlito, 'Liberation Sans', sans-serif" font-size="13.5" font-weight="normal" fill="#000" textLength="28.3" lengthAdjust="spacingAndGlyphs">−0.73</text>
<rect x="1670.5" y="554.1" width="46.40000000000009" height="18.600000000000023" fill="#f44336"/>
<line x1="1670.5" y1="563.5" x2="1675.0" y2="563.5" stroke="#fff" stroke-width="1"/>
<text x="1680" y="568.0" font-family="Carlito, 'Liberation Sans', sans-serif" font-size="13.5" font-weight="normal" fill="#fff" textLength="28.3" lengthAdjust="spacingAndGlyphs">−4.83</text>
<rect x="1670.5" y="573.1" width="46.40000000000009" height="5" fill="#2196f3"/>
<rect x="1670.5" y="621.1" width="46.299999999999955" height="18.5" fill="#8e1599"/>
<line x1="1670.5" y1="630.5" x2="1675.0" y2="630.5" stroke="#fff" stroke-width="1"/>
<text x="1679.1" y="635.0" font-family="Carlito, 'Liberation Sans', sans-serif" font-size="13.5" font-weight="normal" fill="#fff" textLength="29.0" lengthAdjust="spacingAndGlyphs">41.20</text>
<text x="6.3" y="16.7" font-family="Carlito, 'Liberation Sans', sans-serif" font-size="13.5" font-weight="bold" fill="#131722" textLength="84.7" lengthAdjust="spacingAndGlyphs">CryptoTickerio</text>
<text x="95.5" y="16.7" font-family="Carlito, 'Liberation Sans', sans-serif" font-size="13.5" font-weight="normal" fill="#131722" textLength="332.9" lengthAdjust="spacingAndGlyphs">published on TradingView.com, July 04, 2020 13:44:05 CEST</text>
<text x="6.3" y="33.5" font-family="Carlito, 'Liberation Sans', sans-serif" font-size="13.5" font-weight="bold" fill="#131722" textLength="133.8" lengthAdjust="spacingAndGlyphs">COINBASE:BCHUSD, 1D</text>
<text x="147.0" y="33.5" font-family="Carlito, 'Liberation Sans', sans-serif" font-size="13.5" font-weight="normal" fill="#131722" textLength="37.0" lengthAdjust="spacingAndGlyphs">221.89</text>
<polygon points="188,33.6 198.2,33.6 193.1,25" fill="#26a69a"/>
<text x="202.4" y="33.5" font-family="Carlito, 'Liberation Sans', sans-serif" font-size="13.5" font-weight="normal" fill="#131722" textLength="83.8" lengthAdjust="spacingAndGlyphs">+1.23 (+0.56%)</text>
<text x="291.4" y="33.5" font-family="Carlito, 'Liberation Sans', sans-serif" font-size="13.5" font-weight="bold" fill="#131722" textLength="11.5" lengthAdjust="spacingAndGlyphs">O:</text>
<text x="305.6" y="33.5" font-family="Carlito, 'Liberation Sans', sans-serif" font-size="13.5" font-weight="normal" fill="#26a69a" textLength="37.8" lengthAdjust="spacingAndGlyphs">220.69</text>
<text x="348.6" y="33.5" font-family="Carlito, 'Liberation Sans', sans-serif" font-size="13.5" font-weight="bold" fill="#131722" textLength="11.5" lengthAdjust="spacingAndGlyphs">H:</text>
<text x="362.7" y="33.5" font-family="Carlito, 'Liberation Sans', sans-serif" font-size="13.5" font-weight="normal" fill="#26a69a" textLength="37.6" lengthAdjust="spacingAndGlyphs">223.60</text>
<text x="405.8" y="33.5" font-family="Carlito, 'Liberation Sans', sans-serif" font-size="13.5" font-weight="bold" fill="#131722" textLength="8.6" lengthAdjust="spacingAndGlyphs">L:</text>
<text x="416.7" y="33.5" font-family="Carlito, 'Liberation Sans', sans-serif" font-size="13.5" font-weight="normal" fill="#26a69a" textLength="37.4" lengthAdjust="spacingAndGlyphs">220.17</text>
<text x="459.6" y="33.5" font-family="Carlito, 'Liberation Sans', sans-serif" font-size="13.5" font-weight="bold" fill="#131722" textLength="9.6" lengthAdjust="spacingAndGlyphs">C:</text>
<text x="471.9" y="33.5" font-family="Carlito, 'Liberation Sans', sans-serif" font-size="13.5" font-weight="normal" fill="#26a69a" textLength="37.3" lengthAdjust="spacingAndGlyphs">221.89</text>
<text x="15.5" y="64.8" font-family="Carlito, 'Liberation Sans', sans-serif" font-size="14" font-weight="normal" fill="#4a4c54" textLength="233.6" lengthAdjust="spacingAndGlyphs" stroke="#4a4c54" stroke-width="0.35">Bitcoin Cash / U.S. Dollar, 1D, COINBASE</text>
<g fill="#2196f3"><rect x="6" y="708" width="26" height="6" rx="3"/><circle cx="11" cy="709" r="5"/><circle cx="17.3" cy="704.6" r="5.7"/><circle cx="26.5" cy="708.2" r="5.5"/></g>
<polyline points="6.9,712.3 15.9,704.6 22.1,710.3 28.6,703.8" fill="none" stroke="#fff" stroke-width="1.3"/>
<circle cx="15.9" cy="704.6" r="1.8" fill="#fff"/><circle cx="22.1" cy="710.3" r="1.8" fill="#fff"/>
<text x="34.1" y="710.7" font-family="Carlito, 'Liberation Sans', sans-serif" font-size="14" font-weight="normal" fill="#131722" textLength="70.7" lengthAdjust="spacingAndGlyphs">TradingView</text>
</svg>
</body></html>
